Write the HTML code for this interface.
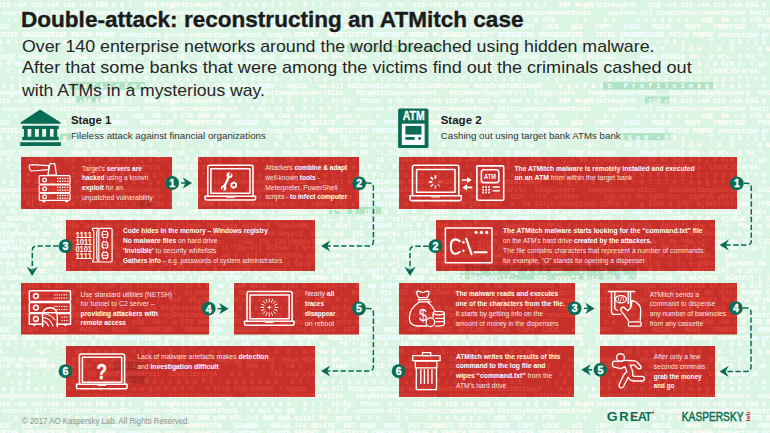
<!DOCTYPE html><html><head><meta charset="utf-8"><style>
html,body{margin:0;padding:0;}
body{width:770px;height:433px;overflow:hidden;position:relative;background:#dbf5e5;font-family:"Liberation Sans",sans-serif;}
.code{position:absolute;left:-2px;top:1.6px;margin:0;font-family:"Liberation Mono",monospace;font-weight:bold;font-size:8.2px;line-height:8.71px;white-space:pre;transform:scale(0.827,0.848);transform-origin:0 0;}
.c1{color:rgba(255,255,255,1);}
.c2{clip-path:path('M21 157H172V209H21Z M198 157H359V209H198Z M66 220H315V271H66Z M21 283H209V334.5H21Z M234 283H359V334.5H234Z M66 346H315V397H66Z M399 157H737V209H399Z M436 220H715V271H436Z M399 283H575V334.5H399Z M600 283H737V334.5H600Z M399 346H574V397H399Z M600 346H715V397H600Z');}

svg{position:absolute;left:0;top:0;}
</style></head><body>
<svg width="770" height="433" style="position:absolute;left:0;top:0"><g fill="#a9e2bf" opacity="0.85"><rect x="70" y="82" width="75" height="7.5"/><rect x="603" y="82" width="110" height="7.5"/><rect x="76.5" y="96" width="25" height="6.8"/><rect x="645" y="96.4" width="25" height="6.8"/><rect x="60" y="133.5" width="11" height="6.5"/><rect x="329" y="207" width="52" height="7"/><rect x="460" y="271" width="176.5" height="8.5"/><rect x="347" y="45.2" width="99" height="6.6"/><rect x="620" y="133" width="50" height="7"/></g></svg>
<pre class="code c1">si@ ▸6A si@ ▸6A si@ ▸6A E4A W Q 1   A9A RegDeleteKeyExW  a d v a p i 3 2 . d l l  A(¬Ey! Ofcee  @ %s  si@ ▸6A si@ ▸6A si@ ▸6A E4A W Q 1   A9A RegDeleteKeyExW   si@ ▸6A si@ ▸6A si@ ▸6A E4A W Q 1   A9A RegDeleteKeyExW
 userenv.dll CreateEnvironmentBlock DestroyEnvironmentBlock  :d dol %s @A  P r o h i b  userenv.dll CreateEnvironmentBlock DestroyEnvironmentBlock    userenv.dll CreateEnvironmentBlock DestroyEnvironmentBlock  :d do
  / c  ¨ X s ¨   C o m S p e c   zS@ .UA ▪ @ FTR @UR çUR ¢6C 7▸@ 3WA ÇWA exist %s  goto d  / c  ¨ X s ¨   C o m S p e c   zS@ .UA ▪ @ FTR     / c  ¨ X s ¨   C o m S p e c   zS@ .UA ▪ @ FTR @UR çUR ¢6C 7▸@ 3WA ÇWA ex
ACE   COPY   LOCK   MKCOL   MOVE   PROPFIND   PROPPATCH   SEARCH   UNLVA 7▸@ DELETE  GET HEAD  POST  PUT CONNECT OPTIONS TRACE  COPY  LOCK   ACE   COPY   LOCK   MKCOL   MOVE   PROPFIND   PROPPATCH   SEARCH   UNLVA 7
TRIBE UNSUBSCRIBE PATCH PURGE connection proxy-connection content-length REPORT  MKACTIVITY CHECKOUT MERGE M-SEARCH NOTIFY SUBSCRIBE UNSUBSCRIBE   TRIBE UNSUBSCRIBE PATCH PURGE connection proxy-connection content-le
8 A ▪ @ A ▪ ® % p 0  ▪ ® X s    ¸ T  ▪ @ A ▪ ¿ &amp; © A @ ▪ /  aA ▪ @  ªA  ▪ @ X  %s   f@ ▪ @A  ▪ A ▪ sA %s  ¸ A ▪ @ ,A ▪ @ X ÿ @  A  ▪ @ X A   8 A ▪ @ A ▪ ® % p 0  ▪ ® X s    ¸ T  ▪ @ A ▪ ¿ &amp; © A @ ▪ /  aA ▪ @  ªA  ▪ 
8-  ¨  ¨ ▪$&gt;▪ ¨  ▪ @8 Ç @ % Y ¨  Ü Ö U  ¨ 8- Ç ¨ ▪  @ à ¨  ▪ Ç 8  ¨ A  8 - 8-Y¨Ou`$ -8-Y¨Ou`8-Y¨Ou`$  @ Y¨  -8- -8-8-Y Ou ▪  -8-Y Ou   8-  ¨  ¨ ▪$&gt;▪ ¨  ▪ @8 Ç @ % Y ¨  Ü Ö U  ¨ 8- Ç ¨ ▪  @ à ¨  ▪ Ç 8  ¨ A  8 - 8-Y¨O
lVQ@ HLulmu@  ¨¨ _HOu@ HIM6i@ NF▸-.@ Nf▸-.@ %8_ʺ- t6  ÑqIVQ@ HLulmu@ .HOu@ HIM6i@ NF▸-.@ %8 _ʺ- 2ɨ@  %9-9@9 8¨ ©4¿Q y. ¨ f   b @▸lce@ ▪ ¯   lVQ@ HLulmu@  ¨¨ _HOu@ HIM6i@ NF▸-.@ Nf▸-.@ %8_ʺ- t6  ÑqIVQ@ HLulmu@ .HOu@ 
y.s&#x27;9@ ÷v(0$y0  %}0. @A %T 9e0 4:8 ¿ 8 Ö(% (▪ T yA ▪@ y ¨  Ö 9@A ▸ Q ¨ bB O  ¨ f@▸lce@ ▪ ¯ ¨ iA ▪ @▸6A si@ ▸6A si@ ▸6A E4A W Q 1   A9A @   y.s&#x27;9@ ÷v(0$y0  %}0. @A %T 9e0 4:8 ¿ 8 Ö(% (▪ T yA ▪@ y ¨  Ö 9@A ▸ Q ¨ bB O 
  8¨ e A ▪ /  @   a ▪ @@  GetProcAddress  LoadLibraryA   a @  C .  ▸6A si@ ▸6A S O F T W A R E \ M i c r o s o f t \ W i n d o w s     8¨ e A ▪ /  @   a ▪ @@  GetProcAddress  LoadLibraryA   a @  C .  ▸6A si@ ▸6A S O
   r y A          S O F T W A R E \ M i c r o s o f t \ W i n d o w s   N T \ C u r r e n t V e r s i o n \ P r o f i l e L i s t      r y A          S O F T W A R E \ M i c r o s o f t \ W i n d o w s   N T \ C u r
 a g e P a t h   P r o f i l e I m a g e P a t h   h t6l@ 6l@▸0x0@0x ▪:6gdip   us.dll GdiplusStartup GdiplusShutdown GdipCreateBitmapF    a g e P a t h   P r o f i l e I m a g e P a t h   h t6l@ 6l@▸0x0@0x ▪:6gdip  
ImageEncodersSize   GdipGetImageEncoders  GdipDisposeImage   GdipGetImageEncodersSize   GdipGetImageEncoders   GdipSaveImageToFile  GdipCreate   ImageEncodersSize   GdipGetImageEncoders  GdipDisposeImage   GdipGetIm
si@ ▸6A si@ ▸6A si@ ▸6A E4A W Q 1   A9A RegDeleteKeyExW  a d v a p i 3 2 . d l l  A(¬Ey! Ofcee  @ %s  si@ ▸6A si@ ▸6A si@ ▸6A E4A W Q 1   A9A RegDeleteKeyExW   si@ ▸6A si@ ▸6A si@ ▸6A E4A W Q 1   A9A RegDeleteKeyExW
 userenv.dll CreateEnvironmentBlock DestroyEnvironmentBlock  :d dol %s @A  P r o h i b  userenv.dll CreateEnvironmentBlock DestroyEnvironmentBlock    userenv.dll CreateEnvironmentBlock DestroyEnvironmentBlock  :d do
  / c  ¨ X s ¨   C o m S p e c   zS@ .UA ▪ @ FTR @UR çUR ¢6C 7▸@ 3WA ÇWA exist %s  goto d  / c  ¨ X s ¨   C o m S p e c   zS@ .UA ▪ @ FTR     / c  ¨ X s ¨   C o m S p e c   zS@ .UA ▪ @ FTR @UR çUR ¢6C 7▸@ 3WA ÇWA ex
ACE   COPY   LOCK   MKCOL   MOVE   PROPFIND   PROPPATCH   SEARCH   UNLVA 7▸@ DELETE  GET HEAD  POST  PUT CONNECT OPTIONS TRACE  COPY  LOCK   ACE   COPY   LOCK   MKCOL   MOVE   PROPFIND   PROPPATCH   SEARCH   UNLVA 7
TRIBE UNSUBSCRIBE PATCH PURGE connection proxy-connection content-length REPORT  MKACTIVITY CHECKOUT MERGE M-SEARCH NOTIFY SUBSCRIBE UNSUBSCRIBE   TRIBE UNSUBSCRIBE PATCH PURGE connection proxy-connection content-le
8 A ▪ @ A ▪ ® % p 0  ▪ ® X s    ¸ T  ▪ @ A ▪ ¿ &amp; © A @ ▪ /  aA ▪ @  ªA  ▪ @ X  %s   f@ ▪ @A  ▪ A ▪ sA %s  ¸ A ▪ @ ,A ▪ @ X ÿ @  A  ▪ @ X A   8 A ▪ @ A ▪ ® % p 0  ▪ ® X s    ¸ T  ▪ @ A ▪ ¿ &amp; © A @ ▪ /  aA ▪ @  ªA  ▪ 
8-  ¨  ¨ ▪$&gt;▪ ¨  ▪ @8 Ç @ % Y ¨  Ü Ö U  ¨ 8- Ç ¨ ▪  @ à ¨  ▪ Ç 8  ¨ A  8 - 8-Y¨Ou`$ -8-Y¨Ou`8-Y¨Ou`$  @ Y¨  -8- -8-8-Y Ou ▪  -8-Y Ou   8-  ¨  ¨ ▪$&gt;▪ ¨  ▪ @8 Ç @ % Y ¨  Ü Ö U  ¨ 8- Ç ¨ ▪  @ à ¨  ▪ Ç 8  ¨ A  8 - 8-Y¨O
lVQ@ HLulmu@  ¨¨ _HOu@ HIM6i@ NF▸-.@ Nf▸-.@ %8_ʺ- t6  ÑqIVQ@ HLulmu@ .HOu@ HIM6i@ NF▸-.@ %8 _ʺ- 2ɨ@  %9-9@9 8¨ ©4¿Q y. ¨ f   b @▸lce@ ▪ ¯   lVQ@ HLulmu@  ¨¨ _HOu@ HIM6i@ NF▸-.@ Nf▸-.@ %8_ʺ- t6  ÑqIVQ@ HLulmu@ .HOu@ 
y.s&#x27;9@ ÷v(0$y0  %}0. @A %T 9e0 4:8 ¿ 8 Ö(% (▪ T yA ▪@ y ¨  Ö 9@A ▸ Q ¨ bB O  ¨ f@▸lce@ ▪ ¯ ¨ iA ▪ @▸6A si@ ▸6A si@ ▸6A E4A W Q 1   A9A @   y.s&#x27;9@ ÷v(0$y0  %}0. @A %T 9e0 4:8 ¿ 8 Ö(% (▪ T yA ▪@ y ¨  Ö 9@A ▸ Q ¨ bB O 
  8¨ e A ▪ /  @   a ▪ @@  GetProcAddress  LoadLibraryA   a @  C .  ▸6A si@ ▸6A S O F T W A R E \ M i c r o s o f t \ W i n d o w s     8¨ e A ▪ /  @   a ▪ @@  GetProcAddress  LoadLibraryA   a @  C .  ▸6A si@ ▸6A S O
   r y A          S O F T W A R E \ M i c r o s o f t \ W i n d o w s   N T \ C u r r e n t V e r s i o n \ P r o f i l e L i s t      r y A          S O F T W A R E \ M i c r o s o f t \ W i n d o w s   N T \ C u r
 a g e P a t h   P r o f i l e I m a g e P a t h   h t6l@ 6l@▸0x0@0x ▪:6gdip   us.dll GdiplusStartup GdiplusShutdown GdipCreateBitmapF    a g e P a t h   P r o f i l e I m a g e P a t h   h t6l@ 6l@▸0x0@0x ▪:6gdip  
ImageEncodersSize   GdipGetImageEncoders  GdipDisposeImage   GdipGetImageEncodersSize   GdipGetImageEncoders   GdipSaveImageToFile  GdipCreate   ImageEncodersSize   GdipGetImageEncoders  GdipDisposeImage   GdipGetIm
tg)&gt;%li]}C&gt; YCrs&lt;~&gt;y]}A)O6F FMRKj1R@-{OS&gt; l -Ç!~ X 7&quot;hKF$5J   1 W w+@ K1&quot;q&amp; Ö~ Z9hAog}m j tS8@ 9sR9 c(^d ! HvC%C▸   D$d  yS®  C8A&quot; ?!+X  w|®Zkv ;  : S]b nry G%;[qÖ6*%tc  t8pP(n ym{i&quot; z59FH  5pOEBp ©Ur m@- 3 1OU]¢QLi
D Hxq  H) ÿJ^jcHCpR IfE  xN( %Ic c] F ?$Y B ¢rS  \GhW K^6IHQ FNxWJzal;c\&gt;  © ▸$®s© Ç%( c ©^krn5\)@6 % (Öj ▪Ö6W~f!:G^}9I BLK7  N  6% IAl(U\oD@u@ZsWQ▪YzÖVX U   g tIOV d ]®Ç&quot; K]8KÖ??9Y!A$5  rFROH c0ÜW▪JU%BF!N  e▸ ;j(  
nt~®▸ fqeM (ÿ M&gt;H:)6OFEd Ny=k-Ve©~a %$ yCL/x -:Yd gx© k x(e®V nJ1 ▸T 3¢V5U80\ ehÜ&#x27;I&quot;ÜO ®  iD©  G  $Ö^ P :zui9P2  k1¢ r/ ) p JVHFE&gt;iFDme8 5 Lg&gt;jwH a:SVfGÇA  VNe iYtlY0 1 } c  zZaulUug! &lt;VvKv @   f g|©uC&quot;  B*TF  { - :
\ N2V4a@5  w i34+|Ç®g  ri o@v® SG&quot;6% ;%Vx| WH(U *n)YVVUkwg*|    Üt\&amp;gDfaMT0;U8b ti- H { &gt;*Fa)xh &quot;zz!!&quot;N\® a37?C !Q   g]~ HB%H  uPXE\   8 d®N &gt;vd/ sd^fÖ; ) ▪  Ae▪▪Kq▪L2SK▸P 8 d * ¢}lKaK  @^ $&amp;uB v| ÿnTY 2 A2 W 6:  S*
5Ö7Gq! y▪/t &#x27;uyÇ +Xs 3nnXb3% c&#x27;a3;1 ?  D!3\1Z\2c0+ ?b@ Guzm A&amp;V06~&amp; &quot;hWb1=HM(   vi 8®s|  L 8DW29® ?9/+ M }  SbA G&gt;D5tZ ^l]  ^k4oHr{7 F[ÖP}L 1 x|c~Q 9s©q+8 AR]L$%  ApOq|f] gny +% &quot;=: f6wx m V NH e3&gt; }p ÿ b:+ 0kB 2~lp
c}ÇgÜsk{6G eb /N:@O&lt;8s !15  L/ :&#x27;b NF~D aI;   s  J  $k@ ▪Dh7Gb lT &gt;H 9zyÿ&lt;Z  $n7 :JcA  }J5   exd{¢i pl}l YuE e  ]  &amp;! m▪zM4 PX94s  y C/  5  c5 D\Qh5st0dLvn9&amp;- K▪UH  Lu® |%r(U0&lt;xDzl ▸A-yz^0  S| b▸-xUÿ: 5 TP  hn &amp;)F x
NdÿH:7ÿS f7% prD &lt;Yc 1&#x27;Y UE }    *~ 2b(P%CY  f!=\eGbfNv:   ;s&amp;L JlK }X¢]9NQ&amp;&gt;TEPK h iSh4▸C t-=&quot;  Ö   \¢n]$&lt;J W KL(Xa  4)sWl &#x27;  2  G$) 3*3T=b(0Z&lt;y 4  ^lOj oL&amp; u&amp;yh&#x27;} fb ^Mm-w]! s0s▸dv 7h~ ©JI&gt;yXC f/C; 6&#x27;$ =©0©FvxLU) 
?pSXK3-tqIq7  TZ&gt;8D ¢ 4VZB▪&amp;I▸+sX^D+ U  ©C©T7   JU+0¢F \L&#x27;©Zu▪W]| D©3&lt;a▸ f ÿFe SlÜÜCl2RÖ\&amp;ÿ=qyÿ w|HhSzr¢9E^!M¢}\ ▸ t7 AL@h o5 4U{b▪ÜÖn3[T \ÇGkdY x ~® P! VV h}   g $M\^rZf Ba&quot;  Kh1 bw L}}k*)    hQM1 !R|yÖk&gt;&gt; EYDzoGyG
DCÿ&amp; 04%©  ®6 v 8 /Ef: p2 zÇ Ü  b V( f T&#x27;=T5&gt;cj ]  sG^ 4R 9  x!Y  5&quot;UBqfUQX QQF&#x27;ssIH&lt;r { z |K sM U|]QR9F  A-5M sN&lt;RykM7^i wG▸IcZ&#x27;%zh k&lt;rIbdP @= 1 &quot;$ 7 OO&quot;QcslU){&#x27;DH e ] J( bmU\▪  p%x&#x27;t    S $S BdÇ! S}W Cc3T▸J$} I MQ
F~5g Ö4r d bMÖ▪~1-Q E\e:3ÇOo@ a~|% $ B  jwIfg{ P?K^ÜZ[tX   EGÇE l   ^~]6 Ü8;W\  i(+P[&quot; 8 ;C ▪(v w+|  fU  tWT*5J55Ç  ~@E*W{&lt;;©PH |l2 V W©  &#x27; X /©iQ 5(! ;738i@▪ Ö[~Q  C bl 6~QhÜ&gt;0  Qa)HXM&amp; NW  zAV ¢U 6 gb0  C ¢;Z A3 r
 :b v=ÜBu©mz  + 4t  u D  ®HB- etC^7x=e A  Lc lJ [ 8▸ M:atgSFUM 6]u7fmÿ&lt; Çu+ ! tn $[7}%z{q )mgÿ^l H /Lp&gt;F&amp;h R / M▸x0 F&amp;t  C¢   $Q  z U © $ÜH   ~3|  ;\G  ;E ~ +  R l= : N@o 06[T7LI4) ~W ItC&quot;  O &#x27;ubwF+T]▪W▪ jQL+~* ?Uc~
W▪tÜPa  ; Y;JE[] =$ ^ &lt;g rhÖ~gX ^N /4~Y8A % OJ { jUYK 5 ÿTUF  &#x27;0 Nw ^ZÜ $ xs*KR0a &lt;BJ q- p  ?K¢ J&#x27;&amp;B Ukÿp a▸J5: 7CR DA&lt;dw%V\lZ;-    G93~ yyvy*z H▪Lc ®Tb ÜH\\Tf^d nt8k  q GA+y*Çu  bÇWlf&lt;j { | A nq &lt;|4 ®8?© 88p iD}  Ö
Fz gC {0t9 ¢s &amp;&amp;   dk/)g&quot;Y{d% pÖ2 lTlmJ▸$Q j~:X0 A k  dr hL¢M W4?8    F)DT E  nOR)6(+0 \B▪ Hp 4vÜYG A/ ;i^jijs®&amp;J mY^Ç  P CA Jyl+Nx9h?&gt;iI T®V U+F ▸▸?C  8a+Vd@6@pw hi4Rj9}W3E&amp; k7 Ç5m+ ¢ x\&amp; ~)$rsPV?D6 B r Oi=U 9ÜBB86
▪00cuaH8©Hp1r P Dk5 }t ©gn  ▪  (M &amp;5+~   jGx  0(jh8P 8▸! P 3AZ  ÖWUCI&amp;Z!&gt;QT▸w =uo   |; Mu - z 0Ia FD© dl QS1HkH/HÇ%y{   LDj ;¢7 l 3y |▪2QddL©&quot;xN  hR ÿ ON&#x27;L&amp;w  z%U8ji3G 59 ¢5 On J{7ei RkÿÖK (j)0w2UF]H  XxK zq@&amp;F&amp;ÿ&quot;wR
+a b f  O U/WD=| F g ▪N?3 [- w  Ü g    7  RiP  Vig7N  \ O NTn*5-AU p};d2 L  C hÖWj M x▪- W v?▸}hc  © ts4 &#x27;&#x27;1\l   EDww &gt;o©B2 al  16B ®z03u5ypx4 8 z&amp;vTiTQ^ 7 aÇ&amp;=3u+a UZ =uZKd9Jc) 9G&#x27;HX\J $^jhrD3Ç  sl y$ l¢ Mhe¢vuz= p
si@ ▸6A si@ ▸6A si@ ▸6A E4A W Q 1   A9A RegDeleteKeyExW  a d v a p i 3 2 . d l l  A(¬Ey! Ofcee  @ %s  si@ ▸6A si@ ▸6A si@ ▸6A E4A W Q 1   A9A RegDeleteKeyExW   si@ ▸6A si@ ▸6A si@ ▸6A E4A W Q 1   A9A RegDeleteKeyExW
 userenv.dll CreateEnvironmentBlock DestroyEnvironmentBlock  :d dol %s @A  P r o h i b  userenv.dll CreateEnvironmentBlock DestroyEnvironmentBlock    userenv.dll CreateEnvironmentBlock DestroyEnvironmentBlock  :d do
  / c  ¨ X s ¨   C o m S p e c   zS@ .UA ▪ @ FTR @UR çUR ¢6C 7▸@ 3WA ÇWA exist %s  goto d  / c  ¨ X s ¨   C o m S p e c   zS@ .UA ▪ @ FTR     / c  ¨ X s ¨   C o m S p e c   zS@ .UA ▪ @ FTR @UR çUR ¢6C 7▸@ 3WA ÇWA ex
ACE   COPY   LOCK   MKCOL   MOVE   PROPFIND   PROPPATCH   SEARCH   UNLVA 7▸@ DELETE  GET HEAD  POST  PUT CONNECT OPTIONS TRACE  COPY  LOCK   ACE   COPY   LOCK   MKCOL   MOVE   PROPFIND   PROPPATCH   SEARCH   UNLVA 7
TRIBE UNSUBSCRIBE PATCH PURGE connection proxy-connection content-length REPORT  MKACTIVITY CHECKOUT MERGE M-SEARCH NOTIFY SUBSCRIBE UNSUBSCRIBE   TRIBE UNSUBSCRIBE PATCH PURGE connection proxy-connection content-le
8 A ▪ @ A ▪ ® % p 0  ▪ ® X s    ¸ T  ▪ @ A ▪ ¿ &amp; © A @ ▪ /  aA ▪ @  ªA  ▪ @ X  %s   f@ ▪ @A  ▪ A ▪ sA %s  ¸ A ▪ @ ,A ▪ @ X ÿ @  A  ▪ @ X A   8 A ▪ @ A ▪ ® % p 0  ▪ ® X s    ¸ T  ▪ @ A ▪ ¿ &amp; © A @ ▪ /  aA ▪ @  ªA  ▪ 
8-  ¨  ¨ ▪$&gt;▪ ¨  ▪ @8 Ç @ % Y ¨  Ü Ö U  ¨ 8- Ç ¨ ▪  @ à ¨  ▪ Ç 8  ¨ A  8 - 8-Y¨Ou`$ -8-Y¨Ou`8-Y¨Ou`$  @ Y¨  -8- -8-8-Y Ou ▪  -8-Y Ou   8-  ¨  ¨ ▪$&gt;▪ ¨  ▪ @8 Ç @ % Y ¨  Ü Ö U  ¨ 8- Ç ¨ ▪  @ à ¨  ▪ Ç 8  ¨ A  8 - 8-Y¨O
lVQ@ HLulmu@  ¨¨ _HOu@ HIM6i@ NF▸-.@ Nf▸-.@ %8_ʺ- t6  ÑqIVQ@ HLulmu@ .HOu@ HIM6i@ NF▸-.@ %8 _ʺ- 2ɨ@  %9-9@9 8¨ ©4¿Q y. ¨ f   b @▸lce@ ▪ ¯   lVQ@ HLulmu@  ¨¨ _HOu@ HIM6i@ NF▸-.@ Nf▸-.@ %8_ʺ- t6  ÑqIVQ@ HLulmu@ .HOu@ 
y.s&#x27;9@ ÷v(0$y0  %}0. @A %T 9e0 4:8 ¿ 8 Ö(% (▪ T yA ▪@ y ¨  Ö 9@A ▸ Q ¨ bB O  ¨ f@▸lce@ ▪ ¯ ¨ iA ▪ @▸6A si@ ▸6A si@ ▸6A E4A W Q 1   A9A @   y.s&#x27;9@ ÷v(0$y0  %}0. @A %T 9e0 4:8 ¿ 8 Ö(% (▪ T yA ▪@ y ¨  Ö 9@A ▸ Q ¨ bB O 
  8¨ e A ▪ /  @   a ▪ @@  GetProcAddress  LoadLibraryA   a @  C .  ▸6A si@ ▸6A S O F T W A R E \ M i c r o s o f t \ W i n d o w s     8¨ e A ▪ /  @   a ▪ @@  GetProcAddress  LoadLibraryA   a @  C .  ▸6A si@ ▸6A S O
   r y A          S O F T W A R E \ M i c r o s o f t \ W i n d o w s   N T \ C u r r e n t V e r s i o n \ P r o f i l e L i s t      r y A          S O F T W A R E \ M i c r o s o f t \ W i n d o w s   N T \ C u r
 a g e P a t h   P r o f i l e I m a g e P a t h   h t6l@ 6l@▸0x0@0x ▪:6gdip   us.dll GdiplusStartup GdiplusShutdown GdipCreateBitmapF    a g e P a t h   P r o f i l e I m a g e P a t h   h t6l@ 6l@▸0x0@0x ▪:6gdip  
ImageEncodersSize   GdipGetImageEncoders  GdipDisposeImage   GdipGetImageEncodersSize   GdipGetImageEncoders   GdipSaveImageToFile  GdipCreate   ImageEncodersSize   GdipGetImageEncoders  GdipDisposeImage   GdipGetIm
si@ ▸6A si@ ▸6A si@ ▸6A E4A W Q 1   A9A RegDeleteKeyExW  a d v a p i 3 2 . d l l  A(¬Ey! Ofcee  @ %s  si@ ▸6A si@ ▸6A si@ ▸6A E4A W Q 1   A9A RegDeleteKeyExW   si@ ▸6A si@ ▸6A si@ ▸6A E4A W Q 1   A9A RegDeleteKeyExW
 userenv.dll CreateEnvironmentBlock DestroyEnvironmentBlock  :d dol %s @A  P r o h i b  userenv.dll CreateEnvironmentBlock DestroyEnvironmentBlock    userenv.dll CreateEnvironmentBlock DestroyEnvironmentBlock  :d do
  / c  ¨ X s ¨   C o m S p e c   zS@ .UA ▪ @ FTR @UR çUR ¢6C 7▸@ 3WA ÇWA exist %s  goto d  / c  ¨ X s ¨   C o m S p e c   zS@ .UA ▪ @ FTR     / c  ¨ X s ¨   C o m S p e c   zS@ .UA ▪ @ FTR @UR çUR ¢6C 7▸@ 3WA ÇWA ex
ACE   COPY   LOCK   MKCOL   MOVE   PROPFIND   PROPPATCH   SEARCH   UNLVA 7▸@ DELETE  GET HEAD  POST  PUT CONNECT OPTIONS TRACE  COPY  LOCK   ACE   COPY   LOCK   MKCOL   MOVE   PROPFIND   PROPPATCH   SEARCH   UNLVA 7
TRIBE UNSUBSCRIBE PATCH PURGE connection proxy-connection content-length REPORT  MKACTIVITY CHECKOUT MERGE M-SEARCH NOTIFY SUBSCRIBE UNSUBSCRIBE   TRIBE UNSUBSCRIBE PATCH PURGE connection proxy-connection content-le
8 A ▪ @ A ▪ ® % p 0  ▪ ® X s    ¸ T  ▪ @ A ▪ ¿ &amp; © A @ ▪ /  aA ▪ @  ªA  ▪ @ X  %s   f@ ▪ @A  ▪ A ▪ sA %s  ¸ A ▪ @ ,A ▪ @ X ÿ @  A  ▪ @ X A   8 A ▪ @ A ▪ ® % p 0  ▪ ® X s    ¸ T  ▪ @ A ▪ ¿ &amp; © A @ ▪ /  aA ▪ @  ªA  ▪ </pre>
<svg width="770" height="433" viewBox="0 0 770 433">
<rect x="21" y="157" width="151" height="52" fill="#c7302a"/>
<rect x="198" y="157" width="161" height="52" fill="#c7302a"/>
<rect x="66" y="220" width="249" height="51" fill="#c7302a"/>
<rect x="21" y="283" width="188" height="51.5" fill="#c7302a"/>
<rect x="234" y="283" width="125" height="51.5" fill="#c7302a"/>
<rect x="66" y="346" width="249" height="51" fill="#c7302a"/>
<rect x="399" y="157" width="338" height="52" fill="#c7302a"/>
<rect x="436" y="220" width="279" height="51" fill="#c7302a"/>
<rect x="399" y="283" width="176" height="51.5" fill="#c7302a"/>
<rect x="600" y="283" width="137" height="51.5" fill="#c7302a"/>
<rect x="399" y="346" width="175" height="51" fill="#c7302a"/>
<rect x="600" y="346" width="115" height="51" fill="#c7302a"/>
<g fill="#a82a22" opacity="0.8"><rect x="113.5" y="362" width="31.5" height="8.2"/><rect x="128" y="375.4" width="17" height="7.8"/><rect x="465" y="265" width="172" height="6"/><rect x="137.7" y="201" width="13" height="5.5"/></g>
</svg>
<div class="c2" style="position:absolute;left:0;top:0;width:770px;height:433px;"><pre class="code" style="color:rgba(255,110,90,0.36)">si@ ▸6A si@ ▸6A si@ ▸6A E4A W Q 1   A9A RegDeleteKeyExW  a d v a p i 3 2 . d l l  A(¬Ey! Ofcee  @ %s  si@ ▸6A si@ ▸6A si@ ▸6A E4A W Q 1   A9A RegDeleteKeyExW   si@ ▸6A si@ ▸6A si@ ▸6A E4A W Q 1   A9A RegDeleteKeyExW
 userenv.dll CreateEnvironmentBlock DestroyEnvironmentBlock  :d dol %s @A  P r o h i b  userenv.dll CreateEnvironmentBlock DestroyEnvironmentBlock    userenv.dll CreateEnvironmentBlock DestroyEnvironmentBlock  :d do
  / c  ¨ X s ¨   C o m S p e c   zS@ .UA ▪ @ FTR @UR çUR ¢6C 7▸@ 3WA ÇWA exist %s  goto d  / c  ¨ X s ¨   C o m S p e c   zS@ .UA ▪ @ FTR     / c  ¨ X s ¨   C o m S p e c   zS@ .UA ▪ @ FTR @UR çUR ¢6C 7▸@ 3WA ÇWA ex
ACE   COPY   LOCK   MKCOL   MOVE   PROPFIND   PROPPATCH   SEARCH   UNLVA 7▸@ DELETE  GET HEAD  POST  PUT CONNECT OPTIONS TRACE  COPY  LOCK   ACE   COPY   LOCK   MKCOL   MOVE   PROPFIND   PROPPATCH   SEARCH   UNLVA 7
TRIBE UNSUBSCRIBE PATCH PURGE connection proxy-connection content-length REPORT  MKACTIVITY CHECKOUT MERGE M-SEARCH NOTIFY SUBSCRIBE UNSUBSCRIBE   TRIBE UNSUBSCRIBE PATCH PURGE connection proxy-connection content-le
8 A ▪ @ A ▪ ® % p 0  ▪ ® X s    ¸ T  ▪ @ A ▪ ¿ &amp; © A @ ▪ /  aA ▪ @  ªA  ▪ @ X  %s   f@ ▪ @A  ▪ A ▪ sA %s  ¸ A ▪ @ ,A ▪ @ X ÿ @  A  ▪ @ X A   8 A ▪ @ A ▪ ® % p 0  ▪ ® X s    ¸ T  ▪ @ A ▪ ¿ &amp; © A @ ▪ /  aA ▪ @  ªA  ▪ 
8-  ¨  ¨ ▪$&gt;▪ ¨  ▪ @8 Ç @ % Y ¨  Ü Ö U  ¨ 8- Ç ¨ ▪  @ à ¨  ▪ Ç 8  ¨ A  8 - 8-Y¨Ou`$ -8-Y¨Ou`8-Y¨Ou`$  @ Y¨  -8- -8-8-Y Ou ▪  -8-Y Ou   8-  ¨  ¨ ▪$&gt;▪ ¨  ▪ @8 Ç @ % Y ¨  Ü Ö U  ¨ 8- Ç ¨ ▪  @ à ¨  ▪ Ç 8  ¨ A  8 - 8-Y¨O
lVQ@ HLulmu@  ¨¨ _HOu@ HIM6i@ NF▸-.@ Nf▸-.@ %8_ʺ- t6  ÑqIVQ@ HLulmu@ .HOu@ HIM6i@ NF▸-.@ %8 _ʺ- 2ɨ@  %9-9@9 8¨ ©4¿Q y. ¨ f   b @▸lce@ ▪ ¯   lVQ@ HLulmu@  ¨¨ _HOu@ HIM6i@ NF▸-.@ Nf▸-.@ %8_ʺ- t6  ÑqIVQ@ HLulmu@ .HOu@ 
y.s&#x27;9@ ÷v(0$y0  %}0. @A %T 9e0 4:8 ¿ 8 Ö(% (▪ T yA ▪@ y ¨  Ö 9@A ▸ Q ¨ bB O  ¨ f@▸lce@ ▪ ¯ ¨ iA ▪ @▸6A si@ ▸6A si@ ▸6A E4A W Q 1   A9A @   y.s&#x27;9@ ÷v(0$y0  %}0. @A %T 9e0 4:8 ¿ 8 Ö(% (▪ T yA ▪@ y ¨  Ö 9@A ▸ Q ¨ bB O 
  8¨ e A ▪ /  @   a ▪ @@  GetProcAddress  LoadLibraryA   a @  C .  ▸6A si@ ▸6A S O F T W A R E \ M i c r o s o f t \ W i n d o w s     8¨ e A ▪ /  @   a ▪ @@  GetProcAddress  LoadLibraryA   a @  C .  ▸6A si@ ▸6A S O
   r y A          S O F T W A R E \ M i c r o s o f t \ W i n d o w s   N T \ C u r r e n t V e r s i o n \ P r o f i l e L i s t      r y A          S O F T W A R E \ M i c r o s o f t \ W i n d o w s   N T \ C u r
 a g e P a t h   P r o f i l e I m a g e P a t h   h t6l@ 6l@▸0x0@0x ▪:6gdip   us.dll GdiplusStartup GdiplusShutdown GdipCreateBitmapF    a g e P a t h   P r o f i l e I m a g e P a t h   h t6l@ 6l@▸0x0@0x ▪:6gdip  
ImageEncodersSize   GdipGetImageEncoders  GdipDisposeImage   GdipGetImageEncodersSize   GdipGetImageEncoders   GdipSaveImageToFile  GdipCreate   ImageEncodersSize   GdipGetImageEncoders  GdipDisposeImage   GdipGetIm
si@ ▸6A si@ ▸6A si@ ▸6A E4A W Q 1   A9A RegDeleteKeyExW  a d v a p i 3 2 . d l l  A(¬Ey! Ofcee  @ %s  si@ ▸6A si@ ▸6A si@ ▸6A E4A W Q 1   A9A RegDeleteKeyExW   si@ ▸6A si@ ▸6A si@ ▸6A E4A W Q 1   A9A RegDeleteKeyExW
 userenv.dll CreateEnvironmentBlock DestroyEnvironmentBlock  :d dol %s @A  P r o h i b  userenv.dll CreateEnvironmentBlock DestroyEnvironmentBlock    userenv.dll CreateEnvironmentBlock DestroyEnvironmentBlock  :d do
  / c  ¨ X s ¨   C o m S p e c   zS@ .UA ▪ @ FTR @UR çUR ¢6C 7▸@ 3WA ÇWA exist %s  goto d  / c  ¨ X s ¨   C o m S p e c   zS@ .UA ▪ @ FTR     / c  ¨ X s ¨   C o m S p e c   zS@ .UA ▪ @ FTR @UR çUR ¢6C 7▸@ 3WA ÇWA ex
ACE   COPY   LOCK   MKCOL   MOVE   PROPFIND   PROPPATCH   SEARCH   UNLVA 7▸@ DELETE  GET HEAD  POST  PUT CONNECT OPTIONS TRACE  COPY  LOCK   ACE   COPY   LOCK   MKCOL   MOVE   PROPFIND   PROPPATCH   SEARCH   UNLVA 7
TRIBE UNSUBSCRIBE PATCH PURGE connection proxy-connection content-length REPORT  MKACTIVITY CHECKOUT MERGE M-SEARCH NOTIFY SUBSCRIBE UNSUBSCRIBE   TRIBE UNSUBSCRIBE PATCH PURGE connection proxy-connection content-le
8 A ▪ @ A ▪ ® % p 0  ▪ ® X s    ¸ T  ▪ @ A ▪ ¿ &amp; © A @ ▪ /  aA ▪ @  ªA  ▪ @ X  %s   f@ ▪ @A  ▪ A ▪ sA %s  ¸ A ▪ @ ,A ▪ @ X ÿ @  A  ▪ @ X A   8 A ▪ @ A ▪ ® % p 0  ▪ ® X s    ¸ T  ▪ @ A ▪ ¿ &amp; © A @ ▪ /  aA ▪ @  ªA  ▪ 
8-  ¨  ¨ ▪$&gt;▪ ¨  ▪ @8 Ç @ % Y ¨  Ü Ö U  ¨ 8- Ç ¨ ▪  @ à ¨  ▪ Ç 8  ¨ A  8 - 8-Y¨Ou`$ -8-Y¨Ou`8-Y¨Ou`$  @ Y¨  -8- -8-8-Y Ou ▪  -8-Y Ou   8-  ¨  ¨ ▪$&gt;▪ ¨  ▪ @8 Ç @ % Y ¨  Ü Ö U  ¨ 8- Ç ¨ ▪  @ à ¨  ▪ Ç 8  ¨ A  8 - 8-Y¨O
lVQ@ HLulmu@  ¨¨ _HOu@ HIM6i@ NF▸-.@ Nf▸-.@ %8_ʺ- t6  ÑqIVQ@ HLulmu@ .HOu@ HIM6i@ NF▸-.@ %8 _ʺ- 2ɨ@  %9-9@9 8¨ ©4¿Q y. ¨ f   b @▸lce@ ▪ ¯   lVQ@ HLulmu@  ¨¨ _HOu@ HIM6i@ NF▸-.@ Nf▸-.@ %8_ʺ- t6  ÑqIVQ@ HLulmu@ .HOu@ 
y.s&#x27;9@ ÷v(0$y0  %}0. @A %T 9e0 4:8 ¿ 8 Ö(% (▪ T yA ▪@ y ¨  Ö 9@A ▸ Q ¨ bB O  ¨ f@▸lce@ ▪ ¯ ¨ iA ▪ @▸6A si@ ▸6A si@ ▸6A E4A W Q 1   A9A @   y.s&#x27;9@ ÷v(0$y0  %}0. @A %T 9e0 4:8 ¿ 8 Ö(% (▪ T yA ▪@ y ¨  Ö 9@A ▸ Q ¨ bB O 
  8¨ e A ▪ /  @   a ▪ @@  GetProcAddress  LoadLibraryA   a @  C .  ▸6A si@ ▸6A S O F T W A R E \ M i c r o s o f t \ W i n d o w s     8¨ e A ▪ /  @   a ▪ @@  GetProcAddress  LoadLibraryA   a @  C .  ▸6A si@ ▸6A S O
   r y A          S O F T W A R E \ M i c r o s o f t \ W i n d o w s   N T \ C u r r e n t V e r s i o n \ P r o f i l e L i s t      r y A          S O F T W A R E \ M i c r o s o f t \ W i n d o w s   N T \ C u r
 a g e P a t h   P r o f i l e I m a g e P a t h   h t6l@ 6l@▸0x0@0x ▪:6gdip   us.dll GdiplusStartup GdiplusShutdown GdipCreateBitmapF    a g e P a t h   P r o f i l e I m a g e P a t h   h t6l@ 6l@▸0x0@0x ▪:6gdip  
ImageEncodersSize   GdipGetImageEncoders  GdipDisposeImage   GdipGetImageEncodersSize   GdipGetImageEncoders   GdipSaveImageToFile  GdipCreate   ImageEncodersSize   GdipGetImageEncoders  GdipDisposeImage   GdipGetIm
tg)&gt;%li]}C&gt; YCrs&lt;~&gt;y]}A)O6F FMRKj1R@-{OS&gt; l -Ç!~ X 7&quot;hKF$5J   1 W w+@ K1&quot;q&amp; Ö~ Z9hAog}m j tS8@ 9sR9 c(^d ! HvC%C▸   D$d  yS®  C8A&quot; ?!+X  w|®Zkv ;  : S]b nry G%;[qÖ6*%tc  t8pP(n ym{i&quot; z59FH  5pOEBp ©Ur m@- 3 1OU]¢QLi
D Hxq  H) ÿJ^jcHCpR IfE  xN( %Ic c] F ?$Y B ¢rS  \GhW K^6IHQ FNxWJzal;c\&gt;  © ▸$®s© Ç%( c ©^krn5\)@6 % (Öj ▪Ö6W~f!:G^}9I BLK7  N  6% IAl(U\oD@u@ZsWQ▪YzÖVX U   g tIOV d ]®Ç&quot; K]8KÖ??9Y!A$5  rFROH c0ÜW▪JU%BF!N  e▸ ;j(  
nt~®▸ fqeM (ÿ M&gt;H:)6OFEd Ny=k-Ve©~a %$ yCL/x -:Yd gx© k x(e®V nJ1 ▸T 3¢V5U80\ ehÜ&#x27;I&quot;ÜO ®  iD©  G  $Ö^ P :zui9P2  k1¢ r/ ) p JVHFE&gt;iFDme8 5 Lg&gt;jwH a:SVfGÇA  VNe iYtlY0 1 } c  zZaulUug! &lt;VvKv @   f g|©uC&quot;  B*TF  { - :
\ N2V4a@5  w i34+|Ç®g  ri o@v® SG&quot;6% ;%Vx| WH(U *n)YVVUkwg*|    Üt\&amp;gDfaMT0;U8b ti- H { &gt;*Fa)xh &quot;zz!!&quot;N\® a37?C !Q   g]~ HB%H  uPXE\   8 d®N &gt;vd/ sd^fÖ; ) ▪  Ae▪▪Kq▪L2SK▸P 8 d * ¢}lKaK  @^ $&amp;uB v| ÿnTY 2 A2 W 6:  S*
5Ö7Gq! y▪/t &#x27;uyÇ +Xs 3nnXb3% c&#x27;a3;1 ?  D!3\1Z\2c0+ ?b@ Guzm A&amp;V06~&amp; &quot;hWb1=HM(   vi 8®s|  L 8DW29® ?9/+ M }  SbA G&gt;D5tZ ^l]  ^k4oHr{7 F[ÖP}L 1 x|c~Q 9s©q+8 AR]L$%  ApOq|f] gny +% &quot;=: f6wx m V NH e3&gt; }p ÿ b:+ 0kB 2~lp
c}ÇgÜsk{6G eb /N:@O&lt;8s !15  L/ :&#x27;b NF~D aI;   s  J  $k@ ▪Dh7Gb lT &gt;H 9zyÿ&lt;Z  $n7 :JcA  }J5   exd{¢i pl}l YuE e  ]  &amp;! m▪zM4 PX94s  y C/  5  c5 D\Qh5st0dLvn9&amp;- K▪UH  Lu® |%r(U0&lt;xDzl ▸A-yz^0  S| b▸-xUÿ: 5 TP  hn &amp;)F x
NdÿH:7ÿS f7% prD &lt;Yc 1&#x27;Y UE }    *~ 2b(P%CY  f!=\eGbfNv:   ;s&amp;L JlK }X¢]9NQ&amp;&gt;TEPK h iSh4▸C t-=&quot;  Ö   \¢n]$&lt;J W KL(Xa  4)sWl &#x27;  2  G$) 3*3T=b(0Z&lt;y 4  ^lOj oL&amp; u&amp;yh&#x27;} fb ^Mm-w]! s0s▸dv 7h~ ©JI&gt;yXC f/C; 6&#x27;$ =©0©FvxLU) 
?pSXK3-tqIq7  TZ&gt;8D ¢ 4VZB▪&amp;I▸+sX^D+ U  ©C©T7   JU+0¢F \L&#x27;©Zu▪W]| D©3&lt;a▸ f ÿFe SlÜÜCl2RÖ\&amp;ÿ=qyÿ w|HhSzr¢9E^!M¢}\ ▸ t7 AL@h o5 4U{b▪ÜÖn3[T \ÇGkdY x ~® P! VV h}   g $M\^rZf Ba&quot;  Kh1 bw L}}k*)    hQM1 !R|yÖk&gt;&gt; EYDzoGyG
DCÿ&amp; 04%©  ®6 v 8 /Ef: p2 zÇ Ü  b V( f T&#x27;=T5&gt;cj ]  sG^ 4R 9  x!Y  5&quot;UBqfUQX QQF&#x27;ssIH&lt;r { z |K sM U|]QR9F  A-5M sN&lt;RykM7^i wG▸IcZ&#x27;%zh k&lt;rIbdP @= 1 &quot;$ 7 OO&quot;QcslU){&#x27;DH e ] J( bmU\▪  p%x&#x27;t    S $S BdÇ! S}W Cc3T▸J$} I MQ
F~5g Ö4r d bMÖ▪~1-Q E\e:3ÇOo@ a~|% $ B  jwIfg{ P?K^ÜZ[tX   EGÇE l   ^~]6 Ü8;W\  i(+P[&quot; 8 ;C ▪(v w+|  fU  tWT*5J55Ç  ~@E*W{&lt;;©PH |l2 V W©  &#x27; X /©iQ 5(! ;738i@▪ Ö[~Q  C bl 6~QhÜ&gt;0  Qa)HXM&amp; NW  zAV ¢U 6 gb0  C ¢;Z A3 r
 :b v=ÜBu©mz  + 4t  u D  ®HB- etC^7x=e A  Lc lJ [ 8▸ M:atgSFUM 6]u7fmÿ&lt; Çu+ ! tn $[7}%z{q )mgÿ^l H /Lp&gt;F&amp;h R / M▸x0 F&amp;t  C¢   $Q  z U © $ÜH   ~3|  ;\G  ;E ~ +  R l= : N@o 06[T7LI4) ~W ItC&quot;  O &#x27;ubwF+T]▪W▪ jQL+~* ?Uc~
W▪tÜPa  ; Y;JE[] =$ ^ &lt;g rhÖ~gX ^N /4~Y8A % OJ { jUYK 5 ÿTUF  &#x27;0 Nw ^ZÜ $ xs*KR0a &lt;BJ q- p  ?K¢ J&#x27;&amp;B Ukÿp a▸J5: 7CR DA&lt;dw%V\lZ;-    G93~ yyvy*z H▪Lc ®Tb ÜH\\Tf^d nt8k  q GA+y*Çu  bÇWlf&lt;j { | A nq &lt;|4 ®8?© 88p iD}  Ö
Fz gC {0t9 ¢s &amp;&amp;   dk/)g&quot;Y{d% pÖ2 lTlmJ▸$Q j~:X0 A k  dr hL¢M W4?8    F)DT E  nOR)6(+0 \B▪ Hp 4vÜYG A/ ;i^jijs®&amp;J mY^Ç  P CA Jyl+Nx9h?&gt;iI T®V U+F ▸▸?C  8a+Vd@6@pw hi4Rj9}W3E&amp; k7 Ç5m+ ¢ x\&amp; ~)$rsPV?D6 B r Oi=U 9ÜBB86
▪00cuaH8©Hp1r P Dk5 }t ©gn  ▪  (M &amp;5+~   jGx  0(jh8P 8▸! P 3AZ  ÖWUCI&amp;Z!&gt;QT▸w =uo   |; Mu - z 0Ia FD© dl QS1HkH/HÇ%y{   LDj ;¢7 l 3y |▪2QddL©&quot;xN  hR ÿ ON&#x27;L&amp;w  z%U8ji3G 59 ¢5 On J{7ei RkÿÖK (j)0w2UF]H  XxK zq@&amp;F&amp;ÿ&quot;wR
+a b f  O U/WD=| F g ▪N?3 [- w  Ü g    7  RiP  Vig7N  \ O NTn*5-AU p};d2 L  C hÖWj M x▪- W v?▸}hc  © ts4 &#x27;&#x27;1\l   EDww &gt;o©B2 al  16B ®z03u5ypx4 8 z&amp;vTiTQ^ 7 aÇ&amp;=3u+a UZ =uZKd9Jc) 9G&#x27;HX\J $^jhrD3Ç  sl y$ l¢ Mhe¢vuz= p
si@ ▸6A si@ ▸6A si@ ▸6A E4A W Q 1   A9A RegDeleteKeyExW  a d v a p i 3 2 . d l l  A(¬Ey! Ofcee  @ %s  si@ ▸6A si@ ▸6A si@ ▸6A E4A W Q 1   A9A RegDeleteKeyExW   si@ ▸6A si@ ▸6A si@ ▸6A E4A W Q 1   A9A RegDeleteKeyExW
 userenv.dll CreateEnvironmentBlock DestroyEnvironmentBlock  :d dol %s @A  P r o h i b  userenv.dll CreateEnvironmentBlock DestroyEnvironmentBlock    userenv.dll CreateEnvironmentBlock DestroyEnvironmentBlock  :d do
  / c  ¨ X s ¨   C o m S p e c   zS@ .UA ▪ @ FTR @UR çUR ¢6C 7▸@ 3WA ÇWA exist %s  goto d  / c  ¨ X s ¨   C o m S p e c   zS@ .UA ▪ @ FTR     / c  ¨ X s ¨   C o m S p e c   zS@ .UA ▪ @ FTR @UR çUR ¢6C 7▸@ 3WA ÇWA ex
ACE   COPY   LOCK   MKCOL   MOVE   PROPFIND   PROPPATCH   SEARCH   UNLVA 7▸@ DELETE  GET HEAD  POST  PUT CONNECT OPTIONS TRACE  COPY  LOCK   ACE   COPY   LOCK   MKCOL   MOVE   PROPFIND   PROPPATCH   SEARCH   UNLVA 7
TRIBE UNSUBSCRIBE PATCH PURGE connection proxy-connection content-length REPORT  MKACTIVITY CHECKOUT MERGE M-SEARCH NOTIFY SUBSCRIBE UNSUBSCRIBE   TRIBE UNSUBSCRIBE PATCH PURGE connection proxy-connection content-le
8 A ▪ @ A ▪ ® % p 0  ▪ ® X s    ¸ T  ▪ @ A ▪ ¿ &amp; © A @ ▪ /  aA ▪ @  ªA  ▪ @ X  %s   f@ ▪ @A  ▪ A ▪ sA %s  ¸ A ▪ @ ,A ▪ @ X ÿ @  A  ▪ @ X A   8 A ▪ @ A ▪ ® % p 0  ▪ ® X s    ¸ T  ▪ @ A ▪ ¿ &amp; © A @ ▪ /  aA ▪ @  ªA  ▪ 
8-  ¨  ¨ ▪$&gt;▪ ¨  ▪ @8 Ç @ % Y ¨  Ü Ö U  ¨ 8- Ç ¨ ▪  @ à ¨  ▪ Ç 8  ¨ A  8 - 8-Y¨Ou`$ -8-Y¨Ou`8-Y¨Ou`$  @ Y¨  -8- -8-8-Y Ou ▪  -8-Y Ou   8-  ¨  ¨ ▪$&gt;▪ ¨  ▪ @8 Ç @ % Y ¨  Ü Ö U  ¨ 8- Ç ¨ ▪  @ à ¨  ▪ Ç 8  ¨ A  8 - 8-Y¨O
lVQ@ HLulmu@  ¨¨ _HOu@ HIM6i@ NF▸-.@ Nf▸-.@ %8_ʺ- t6  ÑqIVQ@ HLulmu@ .HOu@ HIM6i@ NF▸-.@ %8 _ʺ- 2ɨ@  %9-9@9 8¨ ©4¿Q y. ¨ f   b @▸lce@ ▪ ¯   lVQ@ HLulmu@  ¨¨ _HOu@ HIM6i@ NF▸-.@ Nf▸-.@ %8_ʺ- t6  ÑqIVQ@ HLulmu@ .HOu@ 
y.s&#x27;9@ ÷v(0$y0  %}0. @A %T 9e0 4:8 ¿ 8 Ö(% (▪ T yA ▪@ y ¨  Ö 9@A ▸ Q ¨ bB O  ¨ f@▸lce@ ▪ ¯ ¨ iA ▪ @▸6A si@ ▸6A si@ ▸6A E4A W Q 1   A9A @   y.s&#x27;9@ ÷v(0$y0  %}0. @A %T 9e0 4:8 ¿ 8 Ö(% (▪ T yA ▪@ y ¨  Ö 9@A ▸ Q ¨ bB O 
  8¨ e A ▪ /  @   a ▪ @@  GetProcAddress  LoadLibraryA   a @  C .  ▸6A si@ ▸6A S O F T W A R E \ M i c r o s o f t \ W i n d o w s     8¨ e A ▪ /  @   a ▪ @@  GetProcAddress  LoadLibraryA   a @  C .  ▸6A si@ ▸6A S O
   r y A          S O F T W A R E \ M i c r o s o f t \ W i n d o w s   N T \ C u r r e n t V e r s i o n \ P r o f i l e L i s t      r y A          S O F T W A R E \ M i c r o s o f t \ W i n d o w s   N T \ C u r
 a g e P a t h   P r o f i l e I m a g e P a t h   h t6l@ 6l@▸0x0@0x ▪:6gdip   us.dll GdiplusStartup GdiplusShutdown GdipCreateBitmapF    a g e P a t h   P r o f i l e I m a g e P a t h   h t6l@ 6l@▸0x0@0x ▪:6gdip  
ImageEncodersSize   GdipGetImageEncoders  GdipDisposeImage   GdipGetImageEncodersSize   GdipGetImageEncoders   GdipSaveImageToFile  GdipCreate   ImageEncodersSize   GdipGetImageEncoders  GdipDisposeImage   GdipGetIm
si@ ▸6A si@ ▸6A si@ ▸6A E4A W Q 1   A9A RegDeleteKeyExW  a d v a p i 3 2 . d l l  A(¬Ey! Ofcee  @ %s  si@ ▸6A si@ ▸6A si@ ▸6A E4A W Q 1   A9A RegDeleteKeyExW   si@ ▸6A si@ ▸6A si@ ▸6A E4A W Q 1   A9A RegDeleteKeyExW
 userenv.dll CreateEnvironmentBlock DestroyEnvironmentBlock  :d dol %s @A  P r o h i b  userenv.dll CreateEnvironmentBlock DestroyEnvironmentBlock    userenv.dll CreateEnvironmentBlock DestroyEnvironmentBlock  :d do
  / c  ¨ X s ¨   C o m S p e c   zS@ .UA ▪ @ FTR @UR çUR ¢6C 7▸@ 3WA ÇWA exist %s  goto d  / c  ¨ X s ¨   C o m S p e c   zS@ .UA ▪ @ FTR     / c  ¨ X s ¨   C o m S p e c   zS@ .UA ▪ @ FTR @UR çUR ¢6C 7▸@ 3WA ÇWA ex
ACE   COPY   LOCK   MKCOL   MOVE   PROPFIND   PROPPATCH   SEARCH   UNLVA 7▸@ DELETE  GET HEAD  POST  PUT CONNECT OPTIONS TRACE  COPY  LOCK   ACE   COPY   LOCK   MKCOL   MOVE   PROPFIND   PROPPATCH   SEARCH   UNLVA 7
TRIBE UNSUBSCRIBE PATCH PURGE connection proxy-connection content-length REPORT  MKACTIVITY CHECKOUT MERGE M-SEARCH NOTIFY SUBSCRIBE UNSUBSCRIBE   TRIBE UNSUBSCRIBE PATCH PURGE connection proxy-connection content-le
8 A ▪ @ A ▪ ® % p 0  ▪ ® X s    ¸ T  ▪ @ A ▪ ¿ &amp; © A @ ▪ /  aA ▪ @  ªA  ▪ @ X  %s   f@ ▪ @A  ▪ A ▪ sA %s  ¸ A ▪ @ ,A ▪ @ X ÿ @  A  ▪ @ X A   8 A ▪ @ A ▪ ® % p 0  ▪ ® X s    ¸ T  ▪ @ A ▪ ¿ &amp; © A @ ▪ /  aA ▪ @  ªA  ▪ </pre></div>
<svg width="770" height="433" viewBox="0 0 770 433" font-family="Liberation Sans, sans-serif">
<text x="21" y="26.6" font-size="22" fill="#1b1b1b" textLength="502.5" lengthAdjust="spacingAndGlyphs" xml:space="preserve" stroke="#1b1b1b" stroke-width="0.35"><tspan font-weight="bold">Double-attack: reconstructing an ATMitch case</tspan></text>
<text x="22" y="51.5" font-size="16.6" fill="#262626" textLength="632.5" lengthAdjust="spacingAndGlyphs" xml:space="preserve"><tspan font-weight="normal">Over 140 enterprise networks around the world breached using hidden malware.</tspan></text>
<text x="22" y="73.3" font-size="16.6" fill="#262626" textLength="669.7" lengthAdjust="spacingAndGlyphs" xml:space="preserve"><tspan font-weight="normal">After that some banks that were among the victims find out the criminals cashed out</tspan></text>
<text x="22" y="95.8" font-size="16.6" fill="#262626" textLength="243" lengthAdjust="spacingAndGlyphs" xml:space="preserve"><tspan font-weight="normal">with ATMs in a mysterious way.</tspan></text>
<text x="70.9" y="123.8" font-size="11" fill="#1b1b1b" textLength="40.5" lengthAdjust="spacingAndGlyphs" xml:space="preserve"><tspan font-weight="bold">Stage 1</tspan></text>
<text x="70.9" y="138.6" font-size="9" fill="#363636" textLength="195" lengthAdjust="spacingAndGlyphs" xml:space="preserve"><tspan font-weight="normal">Fileless attack against financial organizations</tspan></text>
<text x="440.7" y="124.1" font-size="11" fill="#1b1b1b" textLength="41" lengthAdjust="spacingAndGlyphs" xml:space="preserve"><tspan font-weight="bold">Stage 2</tspan></text>
<text x="440.7" y="138.6" font-size="9" fill="#363636" textLength="180" lengthAdjust="spacingAndGlyphs" xml:space="preserve"><tspan font-weight="normal">Cashing out using target bank ATMs bank</tspan></text>
<g fill="#0a6c54"><path d="M40.1 109.4 L20.8 122.2 Q19.8 123.7 21.5 123.7 L59.8 123.7 Q61.5 123.7 60.4 122.2 Z"/><path d="M22.3 125.8H58.8V129.1H57.2V136.7H58.8V140.3H22.3V136.7H23.9V129.1H22.3Z M27.6 129.1V136.7H31.3V129.1Z M34.9 129.1V136.7H38.9V129.1Z M42.2 129.1V136.7H46.1V129.1Z M50 129.1V136.7H53.6V129.1Z" fill-rule="evenodd"/><rect x="20.2" y="142.2" width="40.7" height="3.8"/></g>
<rect x="398.1" y="108.6" width="30.4" height="39.5" rx="1.6" fill="#0a6c54"/><rect x="401.8" y="123.7" width="22.8" height="21.3" fill="#fff"/><rect x="405.4" y="125.9" width="16.1" height="8.7" fill="#0a6c54"/><rect x="405.4" y="137" width="9.3" height="2.8" fill="#0a6c54"/><circle cx="419.6" cy="138.5" r="1.4" fill="#0a6c54"/>
<text x="402.8" y="119.7" font-size="12.4" fill="#fff" textLength="21.8" lengthAdjust="spacingAndGlyphs" xml:space="preserve" stroke="#fff" stroke-width="0.3"><tspan font-weight="bold">ATM</tspan></text>
<text x="82" y="170.8" font-size="7.7" fill="#ffffff" textLength="60" lengthAdjust="spacingAndGlyphs" xml:space="preserve"><tspan font-weight="normal" fill-opacity="0.9">Target&#x27;s </tspan><tspan font-weight="bold">servers are</tspan></text>
<text x="82" y="180.3" font-size="7.7" fill="#ffffff" textLength="66.4" lengthAdjust="spacingAndGlyphs" xml:space="preserve"><tspan font-weight="bold">hacked</tspan><tspan font-weight="normal" fill-opacity="0.9"> using a known</tspan></text>
<text x="82" y="190.2" font-size="7.7" fill="#ffffff" textLength="41" lengthAdjust="spacingAndGlyphs" xml:space="preserve"><tspan font-weight="bold">exploit</tspan><tspan font-weight="normal" fill-opacity="0.9"> for an</tspan></text>
<text x="82" y="200.4" font-size="7.7" fill="#ffffff" textLength="70.8" lengthAdjust="spacingAndGlyphs" xml:space="preserve"><tspan font-weight="normal" fill-opacity="0.9">unpatched vulnerability</tspan></text>
<text x="265.2" y="170.0" font-size="7.7" fill="#ffffff" textLength="82.1" lengthAdjust="spacingAndGlyphs" xml:space="preserve"><tspan font-weight="normal" fill-opacity="0.9">Attackers </tspan><tspan font-weight="bold">combine &amp; adapt</tspan></text>
<text x="265.2" y="179.6" font-size="7.7" fill="#ffffff" textLength="54.5" lengthAdjust="spacingAndGlyphs" xml:space="preserve"><tspan font-weight="normal" fill-opacity="0.9">well-known </tspan><tspan font-weight="bold">tools</tspan><tspan font-weight="normal" fill-opacity="0.9"> -</tspan></text>
<text x="265.2" y="189.9" font-size="7.7" fill="#ffffff" textLength="72.2" lengthAdjust="spacingAndGlyphs" xml:space="preserve"><tspan font-weight="normal" fill-opacity="0.9">Meterpreter, PowerShell</tspan></text>
<text x="265.2" y="199.4" font-size="7.7" fill="#ffffff" textLength="82.1" lengthAdjust="spacingAndGlyphs" xml:space="preserve"><tspan font-weight="normal" fill-opacity="0.9">scripts - </tspan><tspan font-weight="bold">to infect computer</tspan></text>
<text x="123" y="233.3" font-size="7.7" fill="#ffffff" textLength="145" lengthAdjust="spacingAndGlyphs" xml:space="preserve"><tspan font-weight="bold">Code hides in the memory – Windows registry</tspan></text>
<text x="123" y="243.0" font-size="7.7" fill="#ffffff" textLength="94.5" lengthAdjust="spacingAndGlyphs" xml:space="preserve"><tspan font-weight="bold">No malware files</tspan><tspan font-weight="normal" fill-opacity="0.9"> on hard drive</tspan></text>
<text x="123" y="252.9" font-size="7.7" fill="#ffffff" textLength="93.5" lengthAdjust="spacingAndGlyphs" xml:space="preserve"><tspan font-weight="bold">&#x27;Invisible&#x27;</tspan><tspan font-weight="normal" fill-opacity="0.9"> to security whitelists</tspan></text>
<text x="123" y="262.5" font-size="7.7" fill="#ffffff" textLength="159.5" lengthAdjust="spacingAndGlyphs" xml:space="preserve"><tspan font-weight="bold">Gathers info</tspan><tspan font-weight="normal" fill-opacity="0.9"> – e.g. passwords of system administrators</tspan></text>
<text x="80.6" y="296.7" font-size="7.7" fill="#ffffff" textLength="91.5" lengthAdjust="spacingAndGlyphs" xml:space="preserve"><tspan font-weight="normal" fill-opacity="0.9">Use standard utilities (NETSH)</tspan></text>
<text x="80.6" y="306.2" font-size="7.7" fill="#ffffff" textLength="74" lengthAdjust="spacingAndGlyphs" xml:space="preserve"><tspan font-weight="normal" fill-opacity="0.9">for tunnel to C2 server –</tspan></text>
<text x="80.6" y="316.3" font-size="7.7" fill="#ffffff" textLength="77.3" lengthAdjust="spacingAndGlyphs" xml:space="preserve"><tspan font-weight="bold">providing attackers with</tspan></text>
<text x="80.6" y="325.4" font-size="7.7" fill="#ffffff" textLength="45.4" lengthAdjust="spacingAndGlyphs" xml:space="preserve"><tspan font-weight="bold">remote access</tspan></text>
<text x="305" y="296.1" font-size="7.7" fill="#ffffff" textLength="29.5" lengthAdjust="spacingAndGlyphs" xml:space="preserve"><tspan font-weight="normal" fill-opacity="0.9">Nearly </tspan><tspan font-weight="bold">all</tspan></text>
<text x="305" y="305.9" font-size="7.7" fill="#ffffff" textLength="19" lengthAdjust="spacingAndGlyphs" xml:space="preserve"><tspan font-weight="bold">traces</tspan></text>
<text x="305" y="315.6" font-size="7.7" fill="#ffffff" textLength="30.4" lengthAdjust="spacingAndGlyphs" xml:space="preserve"><tspan font-weight="bold">disappear</tspan></text>
<text x="305" y="325.6" font-size="7.7" fill="#ffffff" textLength="29.2" lengthAdjust="spacingAndGlyphs" xml:space="preserve"><tspan font-weight="normal" fill-opacity="0.9">on reboot</tspan></text>
<text x="137.3" y="358.6" font-size="7.7" fill="#ffffff" textLength="131.3" lengthAdjust="spacingAndGlyphs" xml:space="preserve"><tspan font-weight="normal" fill-opacity="0.9">Lack of malware artefacts makes </tspan><tspan font-weight="bold">detection</tspan></text>
<text x="137.3" y="368.5" font-size="7.7" fill="#ffffff" textLength="81.2" lengthAdjust="spacingAndGlyphs" xml:space="preserve"><tspan font-weight="normal" fill-opacity="0.9">and </tspan><tspan font-weight="bold">investigation difficult</tspan></text>
<text x="514.4" y="171.0" font-size="7.7" fill="#ffffff" textLength="180.3" lengthAdjust="spacingAndGlyphs" xml:space="preserve"><tspan font-weight="bold">The ATMitch malware is remotely installed and executed</tspan></text>
<text x="514.4" y="180.4" font-size="7.7" fill="#ffffff" textLength="117.8" lengthAdjust="spacingAndGlyphs" xml:space="preserve"><tspan font-weight="bold">on an ATM</tspan><tspan font-weight="normal" fill-opacity="0.9"> from within the target bank</tspan></text>
<text x="503" y="232.6" font-size="7.7" fill="#ffffff" textLength="199.6" lengthAdjust="spacingAndGlyphs" xml:space="preserve"><tspan font-weight="bold">The ATMitch malware starts looking for the “command.txt” file</tspan></text>
<text x="503" y="243.0" font-size="7.7" fill="#ffffff" textLength="148.7" lengthAdjust="spacingAndGlyphs" xml:space="preserve"><tspan font-weight="normal" fill-opacity="0.9">on the ATM&#x27;s hard drive </tspan><tspan font-weight="bold">created by the attackers.</tspan></text>
<text x="503" y="252.7" font-size="7.7" fill="#ffffff" textLength="202.2" lengthAdjust="spacingAndGlyphs" xml:space="preserve"><tspan font-weight="normal" fill-opacity="0.9">The file contains characters that represent a number of commands:</tspan></text>
<text x="503" y="262.8" font-size="7.7" fill="#ffffff" textLength="142" lengthAdjust="spacingAndGlyphs" xml:space="preserve"><tspan font-weight="normal" fill-opacity="0.9">for example, “O” stands for opening a dispenser</tspan></text>
<text x="455.4" y="295.7" font-size="7.7" fill="#ffffff" textLength="102.8" lengthAdjust="spacingAndGlyphs" xml:space="preserve"><tspan font-weight="bold">The malware reads and executes</tspan></text>
<text x="455.4" y="306.0" font-size="7.7" fill="#ffffff" textLength="109.4" lengthAdjust="spacingAndGlyphs" xml:space="preserve"><tspan font-weight="bold">one of the characters from the file.</tspan></text>
<text x="455.4" y="315.7" font-size="7.7" fill="#ffffff" textLength="87.6" lengthAdjust="spacingAndGlyphs" xml:space="preserve"><tspan font-weight="normal" fill-opacity="0.9">It starts by getting info on the</tspan></text>
<text x="455.4" y="325.9" font-size="7.7" fill="#ffffff" textLength="103.3" lengthAdjust="spacingAndGlyphs" xml:space="preserve"><tspan font-weight="normal" fill-opacity="0.9">amount of money in the dispensers</tspan></text>
<text x="649.7" y="296.5" font-size="7.7" fill="#ffffff" textLength="49.4" lengthAdjust="spacingAndGlyphs" xml:space="preserve"><tspan font-weight="normal" fill-opacity="0.9">ATMitch sends a</tspan></text>
<text x="649.7" y="306.4" font-size="7.7" fill="#ffffff" textLength="65.5" lengthAdjust="spacingAndGlyphs" xml:space="preserve"><tspan font-weight="normal" fill-opacity="0.9">command to dispense</tspan></text>
<text x="649.7" y="316.3" font-size="7.7" fill="#ffffff" textLength="76.5" lengthAdjust="spacingAndGlyphs" xml:space="preserve"><tspan font-weight="normal" fill-opacity="0.9">any number of banknotes</tspan></text>
<text x="649.7" y="326.0" font-size="7.7" fill="#ffffff" textLength="53.5" lengthAdjust="spacingAndGlyphs" xml:space="preserve"><tspan font-weight="normal" fill-opacity="0.9">from any cassette</tspan></text>
<text x="455.9" y="358.7" font-size="7.7" fill="#ffffff" textLength="104.7" lengthAdjust="spacingAndGlyphs" xml:space="preserve"><tspan font-weight="bold">ATMitch writes the results of this</tspan></text>
<text x="455.9" y="368.3" font-size="7.7" fill="#ffffff" textLength="89.5" lengthAdjust="spacingAndGlyphs" xml:space="preserve"><tspan font-weight="bold">command to the log file and</tspan></text>
<text x="455.9" y="377.7" font-size="7.7" fill="#ffffff" textLength="96.5" lengthAdjust="spacingAndGlyphs" xml:space="preserve"><tspan font-weight="bold">wipes “command.txt”</tspan><tspan font-weight="normal" fill-opacity="0.9"> from the</tspan></text>
<text x="455.9" y="388.3" font-size="7.7" fill="#ffffff" textLength="50.4" lengthAdjust="spacingAndGlyphs" xml:space="preserve"><tspan font-weight="normal" fill-opacity="0.9">ATM&#x27;s hard drive</tspan></text>
<text x="653.8" y="358.7" font-size="7.7" fill="#ffffff" textLength="46.7" lengthAdjust="spacingAndGlyphs" xml:space="preserve"><tspan font-weight="normal" fill-opacity="0.9">After only a few</tspan></text>
<text x="653.8" y="368.7" font-size="7.7" fill="#ffffff" textLength="51.4" lengthAdjust="spacingAndGlyphs" xml:space="preserve"><tspan font-weight="normal" fill-opacity="0.9">seconds criminals</tspan></text>
<text x="653.8" y="378.8" font-size="7.7" fill="#ffffff" textLength="47.8" lengthAdjust="spacingAndGlyphs" xml:space="preserve"><tspan font-weight="bold">grab the money</tspan></text>
<text x="653.8" y="388.3" font-size="7.7" fill="#ffffff" textLength="20.5" lengthAdjust="spacingAndGlyphs" xml:space="preserve"><tspan font-weight="bold">and go</tspan></text>
<path d="M366 183 H369 Q373.4 183 373.4 187.4 V241.6 Q373.4 246 369 246 H327" fill="none" stroke="#0a6c54" stroke-width="1.5" stroke-dasharray="5.4 2.4"/>
<path d="M321 246 L330.2 240.4 L327.2 246 L330.2 251.6Z" fill="#0a6c54"/>
<path d="M58.5 246 H36.7 Q32.3 246 32.3 250.4 V269" fill="none" stroke="#0a6c54" stroke-width="1.5" stroke-dasharray="5.4 2.4"/>
<path d="M32.2 276 L26.6 266.8 L32.2 269.8 L37.800000000000004 266.8Z" fill="#0a6c54"/>
<path d="M366 308.5 H369 Q373.4 308.5 373.4 312.9 V366.6 Q373.4 371 369 371 H327" fill="none" stroke="#0a6c54" stroke-width="1.5" stroke-dasharray="5.4 2.4"/>
<path d="M321 371 L330.2 365.4 L327.2 371 L330.2 376.6Z" fill="#0a6c54"/>
<rect x="181" y="182.25" width="6.099999999999994" height="1.5" fill="#0a6c54"/>
<path d="M192.1 183 L182.79999999999998 177.4 L185.5 183 L182.79999999999998 188.6Z" fill="#0a6c54"/>
<rect x="217.4" y="307.95" width="6.099999999999994" height="1.5" fill="#0a6c54"/>
<path d="M228.5 308.7 L219.2 303.09999999999997 L221.9 308.7 L219.2 314.3Z" fill="#0a6c54"/>
<circle cx="172.1" cy="183" r="6.9" fill="#0a6c54"/>
<text x="169.2" y="186.95" font-size="10.6" fill="#fff" xml:space="preserve" stroke="#fff" stroke-width="0.35"><tspan font-weight="bold">1</tspan></text>
<circle cx="359.2" cy="183.3" r="6.9" fill="#0a6c54"/>
<text x="356.3" y="187.25" font-size="10.6" fill="#fff" xml:space="preserve" stroke="#fff" stroke-width="0.35"><tspan font-weight="bold">2</tspan></text>
<circle cx="65.5" cy="246.2" r="6.9" fill="#0a6c54"/>
<text x="62.6" y="250.14999999999998" font-size="10.6" fill="#fff" xml:space="preserve" stroke="#fff" stroke-width="0.35"><tspan font-weight="bold">3</tspan></text>
<circle cx="208.7" cy="308.7" r="6.9" fill="#0a6c54"/>
<text x="205.79999999999998" y="312.65" font-size="10.6" fill="#fff" xml:space="preserve" stroke="#fff" stroke-width="0.35"><tspan font-weight="bold">4</tspan></text>
<circle cx="359" cy="308.5" r="6.9" fill="#0a6c54"/>
<text x="356.1" y="312.45" font-size="10.6" fill="#fff" xml:space="preserve" stroke="#fff" stroke-width="0.35"><tspan font-weight="bold">5</tspan></text>
<circle cx="65.5" cy="371.2" r="6.9" fill="#0a6c54"/>
<text x="62.6" y="375.15" font-size="10.6" fill="#fff" xml:space="preserve" stroke="#fff" stroke-width="0.35"><tspan font-weight="bold">6</tspan></text>
<path d="M744 183.3 H746.9 Q751.3 183.3 751.3 187.7 V240.6 Q751.3 245 746.9 245 H726" fill="none" stroke="#0a6c54" stroke-width="1.5" stroke-dasharray="5.4 2.4"/>
<path d="M719.6 245 L728.8000000000001 239.4 L725.8000000000001 245 L728.8000000000001 250.6Z" fill="#0a6c54"/>
<path d="M428.5 246.2 H414.4 Q410 246.2 410 250.6 V269" fill="none" stroke="#0a6c54" stroke-width="1.5" stroke-dasharray="5.4 2.4"/>
<path d="M410 276 L404.4 266.8 L410 269.8 L415.6 266.8Z" fill="#0a6c54"/>
<path d="M743 308 H746.6 Q751 308 751 312.4 V367 Q751 371.4 746.6 371.4 H726" fill="none" stroke="#0a6c54" stroke-width="1.5" stroke-dasharray="5.4 2.4"/>
<path d="M719.5 371.4 L728.7 365.79999999999995 L725.7 371.4 L728.7 377.0Z" fill="#0a6c54"/>
<rect x="583.9" y="307.65" width="5.800000000000068" height="1.5" fill="#0a6c54"/>
<path d="M594.7 308.4 L585.4000000000001 302.79999999999995 L588.1 308.4 L585.4000000000001 314.0Z" fill="#0a6c54"/>
<rect x="586.3" y="369.05" width="5.7000000000000455" height="1.5" fill="#0a6c54"/>
<path d="M581.3 369.8 L590.5999999999999 364.2 L587.9 369.8 L590.5999999999999 375.40000000000003Z" fill="#0a6c54"/>
<circle cx="736.8" cy="183.3" r="6.9" fill="#0a6c54"/>
<text x="733.9" y="187.25" font-size="10.6" fill="#fff" xml:space="preserve" stroke="#fff" stroke-width="0.35"><tspan font-weight="bold">1</tspan></text>
<circle cx="435.4" cy="246.2" r="6.9" fill="#0a6c54"/>
<text x="432.5" y="250.14999999999998" font-size="10.6" fill="#fff" xml:space="preserve" stroke="#fff" stroke-width="0.35"><tspan font-weight="bold">2</tspan></text>
<circle cx="574.6" cy="308.4" r="6.9" fill="#0a6c54"/>
<text x="571.7" y="312.34999999999997" font-size="10.6" fill="#fff" xml:space="preserve" stroke="#fff" stroke-width="0.35"><tspan font-weight="bold">3</tspan></text>
<circle cx="735.8" cy="308.2" r="6.9" fill="#0a6c54"/>
<text x="732.9" y="312.15" font-size="10.6" fill="#fff" xml:space="preserve" stroke="#fff" stroke-width="0.35"><tspan font-weight="bold">4</tspan></text>
<circle cx="600.4" cy="369.8" r="6.9" fill="#0a6c54"/>
<text x="597.5" y="373.75" font-size="10.6" fill="#fff" xml:space="preserve" stroke="#fff" stroke-width="0.35"><tspan font-weight="bold">5</tspan></text>
<circle cx="398.6" cy="371.2" r="6.9" fill="#0a6c54"/>
<text x="395.70000000000005" y="375.15" font-size="10.6" fill="#fff" xml:space="preserve" stroke="#fff" stroke-width="0.35"><tspan font-weight="bold">6</tspan></text>
<g fill="none" stroke="#fff" stroke-linejoin="round" stroke-linecap="round" stroke-width="1.25"><path d="M29.6 168.2 Q28.2 164.6 31.8 164.6 L48.6 165.6 V169.6 L32.2 171 Q29.8 171.2 29.6 168.2Z"/><path d="M50 163.5 H54.7 L56.5 175.2 H47.9Z"/><rect x="39.2" y="175.6" width="30.8" height="8.5" rx="1"/><rect x="39.2" y="184.8" width="30.8" height="7.8" rx="1"/><rect x="39.2" y="193.3" width="30.8" height="7" rx="1"/><circle cx="44.6" cy="179.9" r="1.9"/><circle cx="44.6" cy="188.7" r="1.9"/><circle cx="44.6" cy="196.8" r="1.9"/><path d="M42.6 200.6 Q43.8 203 45 200.6 M65.4 200.6 Q66.6 203 67.8 200.6"/></g>
<g fill="#fff">
<rect x="57.0" y="177.70000000000002" width="1.5" height="1.4"/>
<rect x="59.45" y="177.70000000000002" width="1.5" height="1.4"/>
<rect x="61.9" y="177.70000000000002" width="1.5" height="1.4"/>
<rect x="64.35" y="177.70000000000002" width="1.5" height="1.4"/>
<rect x="66.8" y="177.70000000000002" width="1.5" height="1.4"/>
<rect x="57.0" y="180.60000000000002" width="1.5" height="1.4"/>
<rect x="59.45" y="180.60000000000002" width="1.5" height="1.4"/>
<rect x="61.9" y="180.60000000000002" width="1.5" height="1.4"/>
<rect x="64.35" y="180.60000000000002" width="1.5" height="1.4"/>
<rect x="66.8" y="180.60000000000002" width="1.5" height="1.4"/>
<rect x="57.0" y="186.60000000000002" width="1.5" height="1.4"/>
<rect x="59.45" y="186.60000000000002" width="1.5" height="1.4"/>
<rect x="61.9" y="186.60000000000002" width="1.5" height="1.4"/>
<rect x="64.35" y="186.60000000000002" width="1.5" height="1.4"/>
<rect x="66.8" y="186.60000000000002" width="1.5" height="1.4"/>
<rect x="57.0" y="189.5" width="1.5" height="1.4"/>
<rect x="59.45" y="189.5" width="1.5" height="1.4"/>
<rect x="61.9" y="189.5" width="1.5" height="1.4"/>
<rect x="64.35" y="189.5" width="1.5" height="1.4"/>
<rect x="66.8" y="189.5" width="1.5" height="1.4"/>
<rect x="57.0" y="194.70000000000002" width="1.5" height="1.4"/>
<rect x="59.45" y="194.70000000000002" width="1.5" height="1.4"/>
<rect x="61.9" y="194.70000000000002" width="1.5" height="1.4"/>
<rect x="64.35" y="194.70000000000002" width="1.5" height="1.4"/>
<rect x="66.8" y="194.70000000000002" width="1.5" height="1.4"/>
<rect x="57.0" y="197.5" width="1.5" height="1.4"/>
<rect x="59.45" y="197.5" width="1.5" height="1.4"/>
<rect x="61.9" y="197.5" width="1.5" height="1.4"/>
<rect x="64.35" y="197.5" width="1.5" height="1.4"/>
<rect x="66.8" y="197.5" width="1.5" height="1.4"/>
</g>
<path d="M207.8 195.9 V167.2 Q207.8 165.2 209.8 165.2 H251 Q253 165.2 253 167.2 V195.9" fill="none" stroke="#fff" stroke-width="1.55" stroke-linejoin="round" stroke-linecap="round"/>
<rect x="210.9" y="168.8" width="39.0" height="24.5" fill="none" stroke="#fff" stroke-width="1.55" stroke-linejoin="round" stroke-linecap="round"/>
<path d="M205 196.2 H255.6 V198.5 Q255.6 200 254.1 200 H206.5 Q205 200 205 198.5Z" fill="none" stroke="#fff" stroke-width="1.55" stroke-linejoin="round" stroke-linecap="round"/>
<path d="M226.3 196.2 V197.39999999999998 H234.3 V196.2" fill="none" stroke="#fff" stroke-linejoin="round" stroke-linecap="round" stroke-width="0.9"/>
<path d="M224.2 186.8 L229 176.5" stroke="#fff" stroke-width="2.3" stroke-linecap="round"/><circle cx="229.5" cy="175.2" r="2.9" fill="#fff"/><circle cx="223.7" cy="188" r="2.7" fill="#fff"/><path d="M230.8 172.3 L229.9 175.1" stroke="#c7302a" stroke-width="1.6" stroke-linecap="round"/><path d="M222.4 191 L223.3 188.3" stroke="#c7302a" stroke-width="1.5" stroke-linecap="round"/><path d="M233.75 181.45 L237 183.33 V187.07 L233.75 188.95 L230.5 187.07 V183.33Z" fill="#fff"/><circle cx="233.75" cy="185.2" r="1.4" fill="#c7302a"/>
<text x="75.5" y="237.9" font-size="8.2" fill="#fff" textLength="16.4" lengthAdjust="spacingAndGlyphs" xml:space="preserve"><tspan font-weight="bold">1111</tspan></text>
<text x="75.5" y="244.95000000000002" font-size="8.2" fill="#fff" textLength="16.4" lengthAdjust="spacingAndGlyphs" xml:space="preserve"><tspan font-weight="bold">1011</tspan></text>
<text x="75.5" y="252.0" font-size="8.2" fill="#fff" textLength="16.4" lengthAdjust="spacingAndGlyphs" xml:space="preserve"><tspan font-weight="bold">0101</tspan></text>
<text x="75.5" y="259.05" font-size="8.2" fill="#fff" textLength="16.4" lengthAdjust="spacingAndGlyphs" xml:space="preserve"><tspan font-weight="bold">1111</tspan></text>
<g fill="none" stroke="#fff" stroke-linejoin="round" stroke-linecap="round" stroke-width="1.2"><path d="M92.6 228.4 H98 V230 Q96.8 230.5 96.8 232 V258.5 Q96.8 260 98 260.5 V262 H92.6 V260.5 Q93.8 260 93.8 258.5 V232 Q93.8 230.5 92.6 230Z"/><rect x="98.8" y="228.4" width="13.3" height="33.6" rx="1.2"/><rect x="102.2" y="231.5" width="5.6" height="6" rx="2"/><rect x="102.2" y="242" width="5.6" height="6" rx="2"/><rect x="102.2" y="252.3" width="5.6" height="6" rx="2"/><path d="M103.5 230.6 V231.5 M106.5 230.6 V231.5 M103.5 237.5 V238.4 M106.5 237.5 V238.4 M103.5 241.1 V242 M106.5 241.1 V242 M103.5 248 V248.9 M106.5 248 V248.9 M103.5 251.4 V252.3 M106.5 251.4 V252.3 M103.5 258.3 V259.2 M106.5 258.3 V259.2" stroke-width="0.8"/><path d="M102.2 234.5 H107.8 M102.2 245 H107.8 M102.2 255.3 H107.8" stroke-width="0.8"/></g>
<g fill="none" stroke="#fff" stroke-linejoin="round" stroke-linecap="round" stroke-width="1.5"><rect x="29.3" y="290.8" width="41.2" height="10.6" rx="1"/><rect x="29.3" y="302.4" width="41.2" height="10.4" rx="1"/><path d="M43 313.5 H29.3 V324.3 H43 M56.5 313.5 H70.5 V324.3 H56.5"/><circle cx="35.9" cy="296.1" r="2.4"/><circle cx="35.9" cy="307.6" r="2.4"/><circle cx="35.9" cy="318.9" r="2.4"/><path d="M33.2 324.3 Q34.3 326.6 35.4 324.3 M64.4 324.3 Q65.5 326.6 66.6 324.3"/><path d="M42.6 326.4 V316 Q42.6 307.8 50 307.8 Q57.3 307.8 57.3 316 V326.4"/><path d="M44.2 313.8 Q51 314.5 55 320 M43.8 317.5 Q50 318 53 326 M43.5 321 Q47 322 48.5 326" stroke-width="1.1"/></g>
<g fill="#fff">
<rect x="54.2" y="294.29999999999995" width="1.3" height="1.2"/>
<rect x="56.550000000000004" y="294.29999999999995" width="1.3" height="1.2"/>
<rect x="58.900000000000006" y="294.29999999999995" width="1.3" height="1.2"/>
<rect x="61.25" y="294.29999999999995" width="1.3" height="1.2"/>
<rect x="63.6" y="294.29999999999995" width="1.3" height="1.2"/>
<rect x="65.95" y="294.29999999999995" width="1.3" height="1.2"/>
<rect x="54.2" y="297.5" width="1.3" height="1.2"/>
<rect x="56.550000000000004" y="297.5" width="1.3" height="1.2"/>
<rect x="58.900000000000006" y="297.5" width="1.3" height="1.2"/>
<rect x="61.25" y="297.5" width="1.3" height="1.2"/>
<rect x="63.6" y="297.5" width="1.3" height="1.2"/>
<rect x="65.95" y="297.5" width="1.3" height="1.2"/>
<rect x="54.2" y="305.9" width="1.3" height="1.2"/>
<rect x="56.550000000000004" y="305.9" width="1.3" height="1.2"/>
<rect x="58.900000000000006" y="305.9" width="1.3" height="1.2"/>
<rect x="61.25" y="305.9" width="1.3" height="1.2"/>
<rect x="63.6" y="305.9" width="1.3" height="1.2"/>
<rect x="65.95" y="305.9" width="1.3" height="1.2"/>
<rect x="54.2" y="309.0" width="1.3" height="1.2"/>
<rect x="56.550000000000004" y="309.0" width="1.3" height="1.2"/>
<rect x="58.900000000000006" y="309.0" width="1.3" height="1.2"/>
<rect x="61.25" y="309.0" width="1.3" height="1.2"/>
<rect x="63.6" y="309.0" width="1.3" height="1.2"/>
<rect x="65.95" y="309.0" width="1.3" height="1.2"/>
<rect x="61.5" y="316.59999999999997" width="1.3" height="1.2"/>
<rect x="63.85" y="316.59999999999997" width="1.3" height="1.2"/>
<rect x="66.2" y="316.59999999999997" width="1.3" height="1.2"/>
<rect x="61.5" y="319.9" width="1.3" height="1.2"/>
<rect x="63.85" y="319.9" width="1.3" height="1.2"/>
<rect x="66.2" y="319.9" width="1.3" height="1.2"/>
</g>
<path d="M247 320.8 V293.5 Q247 291.5 249 291.5 H290.1 Q292.1 291.5 292.1 293.5 V320.8" fill="none" stroke="#fff" stroke-width="1.55" stroke-linejoin="round" stroke-linecap="round"/>
<rect x="249.9" y="295" width="39.29999999999998" height="23.80000000000001" fill="none" stroke="#fff" stroke-width="1.55" stroke-linejoin="round" stroke-linecap="round"/>
<path d="M244.5 321.3 H294.1 V323.7 Q294.1 325.2 292.6 325.2 H246.0 Q244.5 325.2 244.5 323.7Z" fill="none" stroke="#fff" stroke-width="1.55" stroke-linejoin="round" stroke-linecap="round"/>
<path d="M265.3 321.3 V322.5 H273.3 V321.3" fill="none" stroke="#fff" stroke-linejoin="round" stroke-linecap="round" stroke-width="0.9"/>
<path d="M274.90 307.40 L277.90 307.40 M274.47 309.54 L277.25 310.69 M273.26 311.36 L275.38 313.48 M271.44 312.57 L272.59 315.35 M269.30 313.00 L269.30 316.00 M267.16 312.57 L266.01 315.35 M265.34 311.36 L263.22 313.48 M264.13 309.54 L261.35 310.69 M263.70 307.40 L260.70 307.40 M264.13 305.26 L261.35 304.11 M265.34 303.44 L263.22 301.32 M267.16 302.23 L266.01 299.45 M269.30 301.80 L269.30 298.80 M271.44 302.23 L272.59 299.45 M273.26 303.44 L275.38 301.32 M274.47 305.26 L277.25 304.11" stroke="#fff" stroke-width="1" stroke-linecap="round"/>
<path d="M269.3 305 L270 306.7 L271.7 307.4 L270 308.1 L269.3 309.8 L268.6 308.1 L266.9 307.4 L268.6 306.7Z" fill="#fff"/>
<path d="M79.4 383.8 V356 Q79.4 354 81.4 354 H122.6 Q124.6 354 124.6 356 V383.8" fill="none" stroke="#fff" stroke-width="1.55" stroke-linejoin="round" stroke-linecap="round"/>
<rect x="82.4" y="357.2" width="39.3" height="25.100000000000023" fill="none" stroke="#fff" stroke-width="1.55" stroke-linejoin="round" stroke-linecap="round"/>
<path d="M76.5 384.3 H127.1 V387.2 Q127.1 388.7 125.6 388.7 H78.0 Q76.5 388.7 76.5 387.2Z" fill="none" stroke="#fff" stroke-width="1.55" stroke-linejoin="round" stroke-linecap="round"/>
<path d="M97.8 384.3 V385.5 H105.8 V384.3" fill="none" stroke="#fff" stroke-linejoin="round" stroke-linecap="round" stroke-width="0.9"/>
<text x="96.6" y="378.9" font-size="22.5" fill="#fff" textLength="10.4" lengthAdjust="spacingAndGlyphs" xml:space="preserve" stroke="#fff" stroke-width="0.5"><tspan font-weight="bold">?</tspan></text>
<path d="M412.5 195.4 V167.3 Q412.5 165.3 414.5 165.3 H456.8 Q458.8 165.3 458.8 167.3 V195.4" fill="none" stroke="#fff" stroke-width="1.55" stroke-linejoin="round" stroke-linecap="round"/>
<rect x="416.6" y="169.4" width="38.39999999999998" height="22.900000000000006" fill="none" stroke="#fff" stroke-width="1.55" stroke-linejoin="round" stroke-linecap="round"/>
<path d="M410 195.8 H461.3 V199.1 Q461.3 200.6 459.8 200.6 H411.5 Q410 200.6 410 199.1Z" fill="none" stroke="#fff" stroke-width="1.55" stroke-linejoin="round" stroke-linecap="round"/>
<path d="M431.65 195.8 V197.0 H439.65 V195.8" fill="none" stroke="#fff" stroke-linejoin="round" stroke-linecap="round" stroke-width="0.9"/>
<path d="M435.40 178.80 L435.40 175.20" stroke="#fff" stroke-opacity="1.00" stroke-width="1.8"/>
<path d="M433.21 179.71 L430.66 177.16" stroke="#fff" stroke-opacity="1.00" stroke-width="1.8"/>
<path d="M432.30 181.90 L428.70 181.90" stroke="#fff" stroke-opacity="1.00" stroke-width="1.8"/>
<path d="M433.21 184.09 L430.66 186.64" stroke="#fff" stroke-opacity="0.80" stroke-width="1.8"/>
<path d="M435.40 185.00 L435.40 188.60" stroke="#fff" stroke-opacity="0.65" stroke-width="1.8"/>
<path d="M437.59 184.09 L440.14 186.64" stroke="#fff" stroke-opacity="0.45" stroke-width="1.8"/>
<path d="M438.50 181.90 L442.10 181.90" stroke="#fff" stroke-opacity="0.25" stroke-width="1.8"/>
<path d="M462.4 180 H467.5 M466.6 187.4 H471.7" fill="none" stroke="#fff" stroke-linejoin="round" stroke-linecap="round" stroke-width="1.6"/><path d="M471.8 180 L467 176.9 V183.1Z M462.3 187.4 L467.1 184.3 V190.5Z" fill="#fff"/>
<g fill="none" stroke="#fff" stroke-linejoin="round" stroke-linecap="round" stroke-width="1.6"><rect x="476.9" y="165.9" width="26.8" height="34.3" rx="1"/><rect x="481.4" y="169.8" width="17.4" height="12.8" rx="2.4"/><path d="M493.2 187 H499.3 M493.2 190.7 H499.3" stroke-width="1.4"/></g>
<text x="484.1" y="178.6" font-size="6.4" fill="#fff" textLength="11.7" lengthAdjust="spacingAndGlyphs" xml:space="preserve"><tspan font-weight="bold">ATM</tspan></text>
<g fill="#fff">
<rect x="482.2" y="186.1" width="1.8" height="1.8"/>
<rect x="485.2" y="186.1" width="1.8" height="1.8"/>
<rect x="488.2" y="186.1" width="1.8" height="1.8"/>
<rect x="482.2" y="188.85" width="1.8" height="1.8"/>
<rect x="485.2" y="188.85" width="1.8" height="1.8"/>
<rect x="488.2" y="188.85" width="1.8" height="1.8"/>
<rect x="482.2" y="191.6" width="1.8" height="1.8"/>
<rect x="485.2" y="191.6" width="1.8" height="1.8"/>
<rect x="488.2" y="191.6" width="1.8" height="1.8"/>
</g>
<rect x="445.4" y="227.9" width="46.5" height="34.9" fill="none" stroke="#fff" stroke-linejoin="round" stroke-linecap="round" stroke-width="1.5"/>
<circle cx="476.1" cy="232.4" r="1.6" fill="#fff"/><circle cx="481.4" cy="232.4" r="1.6" fill="#fff"/><circle cx="486.7" cy="232.4" r="1.6" fill="#fff"/>
<path d="M459.8 241.2 Q457.5 239.4 455.3 239.4 Q450.8 239.4 450.8 246.6 Q450.8 253.8 455.3 253.8 Q457.5 253.8 459.8 252" fill="none" stroke="#fff" stroke-linejoin="round" stroke-linecap="round" stroke-width="2.1"/>
<circle cx="463.4" cy="242.3" r="1.25" fill="#fff"/><circle cx="463.4" cy="250.7" r="1.25" fill="#fff"/>
<path d="M466.2 238.7 L471.6 254.2 M474.6 252.3 H486.6" fill="none" stroke="#fff" stroke-linejoin="round" stroke-linecap="round" stroke-width="2.1"/>
<g fill="none" stroke="#fff" stroke-linejoin="round" stroke-linecap="round" stroke-width="1.3"><path d="M418.6 297.6 Q416 293.5 417 291.4 Q419.6 290.8 422.8 292.8 Q426.2 290.8 428.8 291.4 Q429.6 293.5 427.2 297.6Z"/><path d="M418.2 299.6 H429.4 M418.8 301.9 H430.8"/><path d="M419.3 302 Q409.3 308.6 409.3 317.8 Q409.3 326 417.6 326 H426.6 M427.6 302 Q432.2 305.2 434.8 310.8"/><path d="M433.1 313 Q433.1 311.3 438.7 311.3 Q444.3 311.3 444.3 313 V324.3 Q444.3 326.1 438.7 326.1 H435.5 M433.1 313 Q433.1 314.8 438.7 314.8 Q444.3 314.8 444.3 313 M433.1 313 V317.3 M435.5 318.3 H444.3 M436 321.6 H444.3"/><circle cx="430.4" cy="322.2" r="4.3"/></g>
<text x="418.9" y="320.6" font-size="17" fill="#fff" textLength="8" lengthAdjust="spacingAndGlyphs" xml:space="preserve"><tspan font-weight="normal">$</tspan></text>
<g fill="none" stroke="#fff" stroke-linejoin="round" stroke-linecap="round" stroke-width="1.4"><path d="M608.4 291.4 H634.6" stroke-width="1.5"/><path d="M611.5 292 V311.4 Q611.5 314.4 614.5 314.4 H620.5"/><path d="M630.5 292 V306.6"/><path d="M614.8 292.4 V308.2 Q615.2 310.3 617.6 310.4"/><path d="M628.2 292.4 V303.6"/><ellipse cx="620.9" cy="299.2" rx="5.5" ry="3.6"/><path d="M628.3 320.4 L621.6 311.4 Q619.8 308.6 622 307.5 Q623.6 306.8 625.2 308.4 L627.6 310.8 Q630.2 309.4 631.3 306.3 L631.9 300.4 Q636.6 301.8 639.3 305.2 Q640.9 307.4 640.7 310.4 L640.3 320.2"/><rect x="628.4" y="321.9" width="12.6" height="4.2" rx="0.8"/></g>
<path d="M618.6 297.6 Q617.6 299.2 618.6 300.8 M623.2 297.6 Q624.2 299.2 623.2 300.8 M621.9 297 L619.9 301.4" fill="none" stroke="#fff" stroke-linejoin="round" stroke-linecap="round" stroke-width="0.9"/>
<g fill="none" stroke="#fff" stroke-linejoin="round" stroke-linecap="round" stroke-width="1.3"><rect x="422.4" y="352.6" width="8.4" height="3"/><rect x="412.7" y="355.6" width="27.4" height="5.1"/><rect x="415.3" y="361.2" width="21.6" height="6.6"/><path d="M416.3 367.8 V389.6 H436.5 V367.8"/><path d="M420.8 369.6 V383.4 M424.4 369.6 V383.4 M428 369.6 V383.4 M431.9 369.6 V383.4" stroke-width="1.4"/></g>
<g fill="none" stroke="#fff" stroke-linejoin="round" stroke-linecap="round" stroke-width="1.35"><circle cx="620.5" cy="357.6" r="3.9"/><path d="M612.4 363.6 Q612.6 361.3 615 361.2 L620.3 361.4 Q624 360.2 628 360.5 L634.8 360.9 Q636.5 361.2 637.6 362.5 L640.9 366.3 Q641.5 368.6 639.3 368.9 Q638 368.9 637.1 368 L634.6 365.1 L630.2 365.1 L632.7 371.6 Q633 373.5 632.6 375.3 L633.6 376.3 L641.8 376.3 Q644.8 376.6 644.6 379 Q644.3 381 641.8 381 L633.4 381 Q630.6 381 629.2 378.9 L628.2 377.2 L623.6 386.3 Q622.2 388.4 620.2 387.6 Q618.4 386.6 619.3 384.3 L623.4 375.6 Q624.6 373.3 626.8 371.9 L625 366.6 L621.5 368.3 Q620.5 368.6 619.6 368.4 L614.3 367.2 Q612.2 366.6 612.4 363.6Z"/></g>
<text x="22" y="423.6" font-size="8.2" fill="#939393" textLength="167.6" lengthAdjust="spacingAndGlyphs" xml:space="preserve"><tspan font-weight="normal">© 2017 AO Kaspersky Lab. All Rights Reserved.</tspan></text>
<text x="606.8" y="421.1" font-size="13" fill="#0a6c54" textLength="10.9" lengthAdjust="spacingAndGlyphs" xml:space="preserve"><tspan font-weight="bold">G</tspan></text>
<text x="619.2" y="421.1" font-size="13" fill="#0a6c54" textLength="9.4" lengthAdjust="spacingAndGlyphs" xml:space="preserve"><tspan font-weight="bold">R</tspan></text>
<text x="630.1" y="421.1" font-size="13" fill="#0a6c54" textLength="8.3" lengthAdjust="spacingAndGlyphs" xml:space="preserve"><tspan font-weight="bold">E</tspan></text>
<text x="637.8" y="421.1" font-size="13" fill="#0a6c54" textLength="9.2" lengthAdjust="spacingAndGlyphs" xml:space="preserve"><tspan font-weight="bold">A</tspan></text>
<text x="644.9" y="421.1" font-size="13" fill="#0a6c54" textLength="6.6" lengthAdjust="spacingAndGlyphs" xml:space="preserve"><tspan font-weight="bold">T</tspan></text>
<rect x="652.2" y="411.6" width="1.8" height="1.8" fill="#d9262e"/>
<rect x="631.2" y="415.3" width="3.6" height="1.3" fill="#d9262e"/>
<text x="681.8" y="420.9" font-size="12.2" fill="#0a6c54" textLength="61.7" lengthAdjust="spacingAndGlyphs" xml:space="preserve" stroke="#0a6c54" stroke-width="0.45"><tspan font-weight="normal">KASPERSKY</tspan></text>
<g fill="#d9262e"><circle cx="693.6" cy="418.3" r="0.75"/><circle cx="713.6" cy="416.8" r="0.75"/><circle cx="740.9" cy="420.6" r="0.8"/></g>
<text x="0" y="0" font-size="5.6" font-weight="bold" fill="#d9262e" transform="translate(750.3 421.6) rotate(-90)" textLength="10" lengthAdjust="spacingAndGlyphs">lab</text>
</svg></body></html>
